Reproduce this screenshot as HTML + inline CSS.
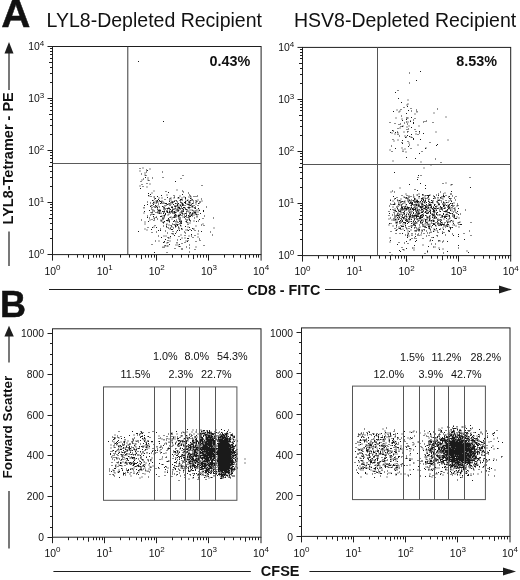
<!DOCTYPE html>
<html><head><meta charset="utf-8"><style>
html,body{margin:0;padding:0;background:#fff;width:520px;height:580px;overflow:hidden}
svg{display:block;will-change:transform;font-family:"Liberation Sans",sans-serif}
</style></head><body>
<svg width="520" height="580" viewBox="0 0 520 580" shape-rendering="auto">
<rect width="520" height="580" fill="#fff"/>
<text transform="translate(1.3,26.8) scale(1.04,1)" font-size="38.8" font-weight="bold" fill="#111" stroke="#111" stroke-width="0.45">A</text>
<text x="46.6" y="27.1" font-size="19.5" font-weight="normal" text-anchor="start" fill="#111" >LYL8-Depleted Recipient</text>
<text x="294" y="27.2" font-size="19.5" font-weight="normal" text-anchor="start" fill="#111" >HSV8-Depleted Recipient</text>
<path transform="scale(0.5)" fill="#1a1a1a" fill-opacity="1.0" d="M276 122h2v2h-2zM326 242h2v2h-2zM285 335h2v2h-2zM279 336h2v2h-2zM299 337h2v2h-2zM292 339h2v1h-2zM292 340h4v1h-4zM294 341h2v1h-2zM279 341h2v2h-2zM324 343h2v2h-2zM292 343h2v2h-2zM289 345h2v2h-2zM282 347h2v2h-2zM289 349h2v1h-2zM289 350h4v1h-4zM291 351h2v1h-2zM365 350h2v2h-2zM290 354h2v2h-2zM325 354h2v2h-2zM304 355h2v2h-2zM295 355h2v2h-2zM361 356h2v2h-2zM286 357h2v2h-2zM295 359h2v1h-2zM295 360h4v1h-4zM283 359h2v2h-2zM297 361h2v1h-2zM350 362h2v2h-2zM281 362h2v2h-2zM293 366h2v2h-2zM299 367h2v2h-2zM283 368h2v2h-2zM403 370h2v2h-2zM279 371h2v2h-2zM285 372h2v2h-2zM293 373h2v2h-2zM280 376h2v2h-2zM353 379h2v2h-2zM364 381h2v2h-2zM307 381h2v2h-2zM331 382h2v2h-2zM366 383h2v2h-2zM336 384h2v2h-2zM303 385h2v2h-2zM376 385h2v2h-2zM296 386h2v2h-2zM364 388h2v2h-2zM300 388h2v2h-2zM296 390h2v1h-2zM378 389h2v2h-2zM333 389h2v2h-2zM347 390h2v2h-2zM296 391h3v1h-3zM322 390h2v2h-2zM394 391h2v2h-2zM359 391h2v2h-2zM297 392h2v1h-2zM380 391h2v2h-2zM301 392h2v2h-2zM387 392h2v2h-2zM314 392h2v2h-2zM391 392h2v2h-2zM356 394h2v1h-2zM307 393h3v2h-3zM367 393h2v2h-2zM348 393h2v2h-2zM381 393h2v2h-2zM377 393h2v2h-2zM334 394h2v2h-2zM341 395h2v1h-2zM323 395h2v2h-2zM339 396h4v1h-4zM317 395h2v2h-2zM363 395h2v2h-2zM347 395h2v2h-2zM310 396h2v1h-2zM355 395h4v2h-4zM308 397h4v1h-4zM380 396h3v2h-3zM339 397h2v1h-2zM360 398h4v1h-4zM383 398h2v1h-2zM308 398h2v1h-2zM402 397h2v2h-2zM370 394h2v5h-2zM383 399h3v1h-3zM360 399h6v1h-6zM329 398h2v2h-2zM375 399h2v1h-2zM316 398h2v2h-2zM364 400h2v1h-2zM380 400h3v1h-3zM338 399h2v2h-2zM374 400h3v1h-3zM351 400h2v1h-2zM384 400h2v1h-2zM314 400h2v1h-2zM359 400h4v1h-4zM341 399h2v2h-2zM395 399h2v2h-2zM323 401h2v1h-2zM311 401h5v1h-5zM379 401h4v1h-4zM359 401h2v1h-2zM351 401h3v1h-3zM371 401h2v1h-2zM304 400h3v2h-3zM318 400h2v2h-2zM374 401h2v1h-2zM391 400h2v2h-2zM391 402h4v1h-4zM311 402h4v1h-4zM377 402h4v1h-4zM319 402h6v1h-6zM370 402h3v1h-3zM345 402h2v1h-2zM352 402h2v1h-2zM386 401h2v2h-2zM403 401h2v2h-2zM319 403h4v1h-4zM338 402h2v2h-2zM393 403h2v1h-2zM342 403h5v1h-5zM307 403h2v1h-2zM348 401h2v3h-2zM370 403h2v1h-2zM360 403h2v1h-2zM377 403h2v1h-2zM398 403h4v2h-4zM341 404h6v1h-6zM360 404h3v1h-3zM325 403h2v2h-2zM294 403h2v2h-2zM354 403h2v2h-2zM306 404h3v1h-3zM313 403h4v2h-4zM368 404h4v2h-4zM377 404h4v2h-4zM361 405h4v1h-4zM322 404h2v2h-2zM341 405h2v1h-2zM344 405h3v1h-3zM391 404h2v2h-2zM386 405h2v1h-2zM306 405h2v1h-2zM384 406h4v1h-4zM300 405h2v2h-2zM363 406h3v1h-3zM312 405h2v2h-2zM309 405h2v2h-2zM337 406h2v1h-2zM344 406h2v1h-2zM323 406h2v2h-2zM330 406h4v2h-4zM356 406h2v2h-2zM373 407h2v1h-2zM396 406h3v2h-3zM305 406h2v2h-2zM337 407h6v1h-6zM350 406h2v2h-2zM377 407h3v1h-3zM384 407h2v1h-2zM320 406h2v2h-2zM353 406h2v2h-2zM370 406h2v2h-2zM327 405h2v3h-2zM363 407h4v2h-4zM334 408h3v1h-3zM338 408h5v1h-5zM373 408h7v1h-7zM391 407h2v2h-2zM381 407h2v2h-2zM316 407h2v2h-2zM382 409h2v1h-2zM375 409h4v1h-4zM346 408h2v2h-2zM294 408h2v2h-2zM306 408h2v2h-2zM332 409h5v1h-5zM364 409h4v2h-4zM310 410h2v1h-2zM357 409h2v2h-2zM303 410h2v1h-2zM379 410h5v1h-5zM332 410h2v1h-2zM360 409h2v2h-2zM377 411h5v1h-5zM288 410h2v2h-2zM301 411h4v1h-4zM360 411h3v1h-3zM364 411h3v1h-3zM310 411h3v1h-3zM351 410h2v2h-2zM384 411h2v1h-2zM395 410h2v2h-2zM369 410h2v2h-2zM348 411h2v1h-2zM354 408h2v4h-2zM387 410h2v2h-2zM339 410h2v2h-2zM361 412h2v1h-2zM300 412h3v1h-3zM383 412h3v1h-3zM329 410h2v3h-2zM324 412h2v1h-2zM315 411h2v2h-2zM348 412h5v1h-5zM377 412h2v1h-2zM354 413h5v1h-5zM349 413h4v1h-4zM343 412h2v2h-2zM300 413h2v1h-2zM307 412h2v2h-2zM311 412h3v2h-3zM390 413h2v1h-2zM324 413h4v1h-4zM309 414h4v1h-4zM326 414h3v1h-3zM366 414h4v1h-4zM389 414h3v1h-3zM354 414h6v1h-6zM318 413h2v2h-2zM362 413h2v2h-2zM412 413h2v2h-2zM383 413h4v2h-4zM366 415h5v1h-5zM342 414h4v2h-4zM388 415h3v1h-3zM336 415h3v1h-3zM375 414h6v2h-6zM327 415h3v1h-3zM314 414h2v2h-2zM303 414h2v2h-2zM309 415h2v1h-2zM361 416h2v1h-2zM328 416h3v1h-3zM356 415h4v2h-4zM350 415h2v2h-2zM287 414h2v3h-2zM369 416h2v1h-2zM364 416h2v1h-2zM388 416h4v1h-4zM347 417h4v1h-4zM364 417h3v1h-3zM377 416h2v2h-2zM390 417h2v1h-2zM396 416h2v2h-2zM370 417h2v1h-2zM358 417h5v1h-5zM344 417h2v1h-2zM333 416h7v2h-7zM302 417h2v2h-2zM326 417h2v2h-2zM344 418h7v1h-7zM365 418h3v1h-3zM334 418h2v1h-2zM340 418h2v1h-2zM353 417h3v2h-3zM314 417h2v2h-2zM360 418h2v1h-2zM370 418h5v1h-5zM338 419h4v1h-4zM318 419h3v1h-3zM397 419h2v1h-2zM345 419h2v1h-2zM329 417h2v3h-2zM383 419h2v1h-2zM315 419h2v1h-2zM371 419h4v1h-4zM366 419h2v1h-2zM397 420h3v1h-3zM315 420h7v1h-7zM365 420h3v1h-3zM338 420h2v1h-2zM393 419h2v2h-2zM304 419h3v2h-3zM356 419h3v2h-3zM379 419h2v2h-2zM353 419h2v2h-2zM383 420h4v1h-4zM344 420h2v1h-2zM342 421h4v1h-4zM385 421h2v1h-2zM316 421h6v1h-6zM298 420h2v2h-2zM365 421h2v1h-2zM398 421h2v1h-2zM328 421h2v1h-2zM341 422h4v1h-4zM332 421h4v2h-4zM354 421h4v2h-4zM307 421h3v2h-3zM319 422h3v1h-3zM365 422h3v1h-3zM373 421h4v2h-4zM324 422h2v1h-2zM327 422h3v1h-3zM351 421h2v2h-2zM362 421h2v2h-2zM348 422h2v1h-2zM316 422h2v1h-2zM389 421h4v2h-4zM364 423h4v1h-4zM406 420h2v4h-2zM324 423h6v1h-6zM288 422h2v2h-2zM386 423h3v1h-3zM338 422h2v2h-2zM341 423h9v1h-9zM361 423h2v2h-2zM364 424h2v1h-2zM304 423h2v2h-2zM333 423h3v2h-3zM386 424h6v1h-6zM301 424h2v1h-2zM372 423h2v2h-2zM318 423h2v2h-2zM337 424h3v1h-3zM395 423h2v2h-2zM314 423h2v2h-2zM326 424h4v1h-4zM377 423h2v2h-2zM342 424h2v1h-2zM345 424h8v1h-8zM380 424h2v1h-2zM315 425h4v1h-4zM337 425h5v1h-5zM379 425h3v1h-3zM334 425h2v1h-2zM362 425h2v1h-2zM388 425h5v1h-5zM301 425h4v1h-4zM311 424h2v2h-2zM348 425h5v1h-5zM359 425h2v2h-2zM370 426h3v1h-3zM340 426h2v1h-2zM303 426h2v1h-2zM287 425h2v2h-2zM347 426h2v1h-2zM391 426h2v1h-2zM379 426h2v1h-2zM315 426h5v1h-5zM344 425h2v2h-2zM362 426h4v1h-4zM367 427h7v1h-7zM347 427h4v1h-4zM326 426h2v2h-2zM318 427h2v1h-2zM400 426h2v2h-2zM384 425h2v3h-2zM390 427h2v1h-2zM381 427h2v1h-2zM321 425h2v3h-2zM387 426h2v2h-2zM390 428h4v1h-4zM367 428h3v1h-3zM372 428h2v1h-2zM378 427h2v2h-2zM330 426h2v3h-2zM349 428h3v1h-3zM364 427h2v2h-2zM337 427h2v2h-2zM360 428h2v1h-2zM381 428h5v1h-5zM350 429h3v1h-3zM329 429h3v1h-3zM383 429h2v1h-2zM395 428h2v2h-2zM303 428h2v2h-2zM306 428h3v2h-3zM357 429h5v1h-5zM392 429h2v1h-2zM335 429h2v2h-2zM327 430h4v1h-4zM300 429h2v2h-2zM351 430h2v1h-2zM348 430h2v1h-2zM387 429h2v2h-2zM382 430h2v1h-2zM323 431h2v1h-2zM356 430h5v2h-5zM348 431h7v1h-7zM382 431h4v1h-4zM376 430h2v2h-2zM372 430h2v2h-2zM327 431h3v1h-3zM368 431h2v1h-2zM363 430h2v2h-2zM379 430h2v2h-2zM356 432h4v1h-4zM368 432h6v1h-6zM384 432h2v1h-2zM349 432h2v1h-2zM353 432h2v1h-2zM408 431h2v2h-2zM320 432h5v1h-5zM294 431h2v2h-2zM378 432h4v1h-4zM328 432h2v1h-2zM356 433h2v1h-2zM320 433h4v1h-4zM376 433h6v1h-6zM347 433h6v1h-6zM312 433h2v1h-2zM341 433h2v1h-2zM370 433h2v1h-2zM306 432h2v2h-2zM376 434h3v1h-3zM339 434h4v1h-4zM393 431h2v4h-2zM311 434h3v1h-3zM345 434h8v1h-8zM365 433h2v2h-2zM373 434h2v2h-2zM345 435h2v1h-2zM339 435h2v1h-2zM324 435h2v1h-2zM368 434h2v2h-2zM348 435h2v1h-2zM294 434h2v2h-2zM327 433h2v3h-2zM311 435h2v1h-2zM377 435h2v1h-2zM426 435h2v2h-2zM388 435h2v2h-2zM307 435h2v2h-2zM298 435h2v2h-2zM324 436h5v1h-5zM360 435h2v2h-2zM405 436h2v2h-2zM336 436h2v2h-2zM343 437h2v2h-2zM377 437h3v2h-3zM308 437h2v2h-2zM314 437h2v2h-2zM357 434h2v5h-2zM337 438h2v1h-2zM370 437h2v2h-2zM335 439h4v1h-4zM378 439h2v1h-2zM303 438h2v2h-2zM325 437h2v3h-2zM398 438h2v2h-2zM358 439h4v2h-4zM332 440h7v1h-7zM378 440h3v1h-3zM352 439h2v2h-2zM282 439h2v2h-2zM299 439h2v2h-2zM321 439h2v2h-2zM372 439h4v2h-4zM307 440h2v2h-2zM332 441h5v1h-5zM348 440h2v2h-2zM379 441h3v1h-3zM335 442h2v1h-2zM321 441h4v2h-4zM358 442h3v1h-3zM362 441h2v2h-2zM396 441h2v2h-2zM380 442h2v1h-2zM387 441h2v2h-2zM328 442h2v1h-2zM371 442h3v2h-3zM358 443h6v1h-6zM296 442h2v2h-2zM346 442h2v2h-2zM327 443h3v1h-3zM353 442h2v2h-2zM392 442h2v2h-2zM349 442h2v2h-2zM325 444h4v1h-4zM373 444h2v1h-2zM360 444h4v1h-4zM338 441h2v4h-2zM289 443h2v2h-2zM361 445h2v1h-2zM355 444h2v2h-2zM325 445h3v1h-3zM373 445h4v1h-4zM326 446h2v1h-2zM359 446h5v1h-5zM351 445h2v2h-2zM379 445h2v2h-2zM375 446h2v1h-2zM362 447h2v1h-2zM353 448h4v1h-4zM359 447h2v2h-2zM333 447h2v2h-2zM405 447h2v2h-2zM347 448h2v1h-2zM289 447h2v2h-2zM344 447h2v2h-2zM375 448h2v2h-2zM347 449h10v1h-10zM349 450h4v1h-4zM341 450h2v1h-2zM402 449h2v2h-2zM337 449h2v2h-2zM332 449h2v2h-2zM360 450h2v1h-2zM360 451h3v1h-3zM341 451h3v1h-3zM350 451h2v1h-2zM309 450h2v2h-2zM407 450h2v2h-2zM354 450h2v2h-2zM361 452h2v1h-2zM342 452h2v1h-2zM326 451h2v2h-2zM391 451h2v2h-2zM350 452h3v2h-3zM370 452h2v2h-2zM332 452h2v2h-2zM356 453h2v2h-2zM343 453h2v2h-2zM350 454h2v1h-2zM307 453h2v2h-2zM375 453h2v2h-2zM295 454h2v2h-2zM333 454h2v2h-2zM312 454h2v2h-2zM378 454h2v2h-2zM304 454h2v2h-2zM427 455h2v2h-2zM340 455h2v2h-2zM362 456h2v1h-2zM346 455h2v2h-2zM384 456h2v1h-2zM336 455h2v2h-2zM384 457h5v1h-5zM362 457h3v1h-3zM386 458h3v1h-3zM357 455h2v4h-2zM320 457h2v2h-2zM289 457h2v2h-2zM339 457h2v2h-2zM302 458h2v2h-2zM342 458h4v2h-4zM374 459h2v1h-2zM379 458h2v2h-2zM363 458h2v2h-2zM293 459h2v2h-2zM374 460h4v1h-4zM371 459h2v2h-2zM354 460h2v2h-2zM376 461h2v1h-2zM320 460h2v2h-2zM389 460h2v2h-2zM358 460h2v2h-2zM316 460h2v2h-2zM382 460h2v2h-2zM396 461h2v2h-2zM330 461h2v2h-2zM402 462h2v2h-2zM345 462h2v2h-2zM276 462h2v2h-2zM312 463h2v2h-2zM420 463h2v2h-2zM368 463h2v2h-2zM352 463h2v2h-2zM303 464h2v2h-2zM334 465h2v2h-2zM370 465h2v2h-2zM343 466h2v1h-2zM343 467h5v1h-5zM350 466h2v2h-2zM345 468h3v1h-3zM395 467h2v2h-2zM382 468h2v2h-2zM361 469h2v2h-2zM424 469h2v2h-2zM369 470h2v2h-2zM348 470h2v2h-2zM389 470h2v2h-2zM316 471h2v2h-2zM331 471h2v2h-2zM327 471h2v2h-2zM382 471h2v2h-2zM377 471h2v2h-2zM340 472h2v2h-2zM357 472h2v2h-2zM335 474h2v1h-2zM395 473h2v2h-2zM335 475h3v1h-3zM322 474h2v2h-2zM385 474h2v2h-2zM369 475h2v2h-2zM339 475h2v2h-2zM363 475h2v2h-2zM336 476h2v1h-2zM374 476h4v2h-4zM398 477h2v2h-2zM360 478h2v2h-2zM330 478h2v2h-2zM354 479h2v2h-2zM399 480h2v2h-2zM375 480h2v2h-2zM335 480h2v2h-2zM317 481h2v2h-2zM310 481h2v2h-2zM339 481h2v2h-2zM371 481h2v2h-2zM391 482h2v2h-2zM328 482h2v2h-2zM374 482h2v2h-2zM335 484h2v1h-2zM369 484h2v2h-2zM333 485h4v1h-4zM326 484h3v2h-3zM353 484h2v3h-2zM333 486h2v1h-2zM363 486h2v2h-2zM303 488h2v2h-2zM358 488h2v2h-2zM338 488h2v2h-2zM355 489h2v2h-2zM329 490h2v1h-2zM351 489h2v2h-2zM378 489h2v2h-2zM407 490h2v2h-2zM329 491h4v1h-4zM331 492h2v1h-2zM334 491h3v2h-3zM357 492h4v2h-4zM391 493h2v2h-2zM372 493h2v2h-2zM328 493h2v2h-2zM325 493h2v3h-2zM378 495h2v2h-2zM349 496h2v2h-2zM362 497h4v2h-4zM389 498h2v2h-2zM378 503h2v2h-2zM308 504h2v2h-2zM333 504h2v2h-2z"/>
<path transform="scale(0.5)" fill="#1a1a1a" fill-opacity="1.0" d="M840 142h2v2h-2zM818 145h2v2h-2zM832 160h2v2h-2zM818 165h2v2h-2zM795 180h2v2h-2zM790 184h2v2h-2zM796 196h2v2h-2zM815 199h2v2h-2zM802 204h2v2h-2zM815 207h2v2h-2zM813 209h2v2h-2zM814 212h2v2h-2zM807 214h2v2h-2zM821 216h2v2h-2zM874 217h2v2h-2zM801 218h2v2h-2zM793 219h2v2h-2zM832 219h2v2h-2zM816 220h2v2h-2zM822 221h2v2h-2zM799 221h2v2h-2zM786 222h2v2h-2zM833 222h2v3h-2zM797 223h2v2h-2zM867 225h2v2h-2zM812 226h2v2h-2zM829 227h2v2h-2zM802 231h2v2h-2zM891 233h2v2h-2zM822 234h2v2h-2zM791 235h2v2h-2zM812 235h5v2h-5zM829 236h2v2h-2zM803 237h2v2h-2zM812 238h2v2h-2zM826 239h2v2h-2zM804 240h2v2h-2zM852 241h2v2h-2zM820 241h2v3h-2zM849 242h2v2h-2zM812 243h2v2h-2zM815 243h2v2h-2zM846 243h2v2h-2zM779 244h2v2h-2zM865 244h2v2h-2zM808 245h2v2h-2zM826 244h2v4h-2zM789 246h2v2h-2zM814 247h2v2h-2zM800 247h2v2h-2zM797 248h2v2h-2zM805 251h2v1h-2zM817 251h2v2h-2zM837 251h2v2h-2zM804 252h3v1h-3zM801 252h2v2h-2zM804 253h2v1h-2zM813 253h2v2h-2zM822 254h2v2h-2zM799 255h2v2h-2zM795 256h2v2h-2zM816 257h2v2h-2zM829 258h2v2h-2zM813 258h2v2h-2zM784 260h2v1h-2zM784 261h4v1h-4zM815 262h2v1h-2zM786 262h2v1h-2zM814 263h3v1h-3zM831 262h2v2h-2zM838 262h2v2h-2zM814 264h2v1h-2zM871 263h2v2h-2zM807 263h2v2h-2zM794 263h2v2h-2zM790 264h2v2h-2zM780 264h2v2h-2zM795 265h2v2h-2zM783 265h2v2h-2zM838 265h2v2h-2zM846 266h2v2h-2zM831 267h2v2h-2zM789 267h2v2h-2zM795 268h2v2h-2zM822 268h2v2h-2zM835 268h2v2h-2zM814 270h2v2h-2zM798 271h2v2h-2zM809 271h2v2h-2zM812 273h2v1h-2zM818 272h2v2h-2zM821 273h2v1h-2zM810 274h4v1h-4zM821 274h4v1h-4zM823 275h2v1h-2zM810 275h2v1h-2zM785 278h2v2h-2zM826 276h2v4h-2zM840 278h2v2h-2zM795 279h2v2h-2zM895 279h2v2h-2zM804 280h2v2h-2zM787 281h2v2h-2zM815 282h2v2h-2zM859 284h2v2h-2zM803 284h2v2h-2zM817 285h2v2h-2zM804 286h2v2h-2zM874 288h2v2h-2zM818 289h2v2h-2zM835 289h2v2h-2zM872 290h2v2h-2zM782 291h2v2h-2zM816 292h2v2h-2zM851 295h2v1h-2zM850 296h3v1h-3zM803 295h2v2h-2zM790 296h2v2h-2zM850 297h2v1h-2zM821 296h2v2h-2zM809 297h2v2h-2zM779 299h2v2h-2zM805 299h2v2h-2zM783 302h2v2h-2zM805 302h2v2h-2zM843 302h2v2h-2zM811 303h2v2h-2zM838 306h2v2h-2zM812 314h2v2h-2zM830 316h2v2h-2zM870 317h2v2h-2zM785 321h2v2h-2zM841 323h2v2h-2zM881 324h2v2h-2zM852 328h2v2h-2zM804 328h2v2h-2zM861 329h2v2h-2zM847 335h2v2h-2zM788 344h2v2h-2zM836 350h2v2h-2zM841 350h2v2h-2zM939 354h2v2h-2zM835 354h2v2h-2zM834 358h2v2h-2zM891 365h2v2h-2zM885 366h2v2h-2zM840 366h2v2h-2zM903 368h2v1h-2zM901 369h4v1h-4zM818 368h2v2h-2zM901 370h2v1h-2zM850 370h2v2h-2zM940 374h2v2h-2zM799 375h2v2h-2zM850 376h2v2h-2zM829 378h2v2h-2zM834 380h2v2h-2zM784 381h2v2h-2zM902 382h2v2h-2zM880 383h2v2h-2zM788 383h2v2h-2zM781 383h2v2h-2zM889 385h2v2h-2zM837 387h2v2h-2zM876 387h2v2h-2zM844 388h2v1h-2zM886 387h2v2h-2zM811 387h2v2h-2zM901 386h2v4h-2zM859 389h2v1h-2zM833 389h3v2h-3zM826 389h2v2h-2zM872 389h2v2h-2zM851 390h2v1h-2zM844 389h4v2h-4zM854 390h7v1h-7zM849 391h4v1h-4zM854 391h6v1h-6zM876 390h2v2h-2zM866 391h2v1h-2zM813 390h2v2h-2zM803 390h2v2h-2zM891 390h2v2h-2zM886 390h2v2h-2zM898 392h2v1h-2zM904 391h2v2h-2zM866 392h4v1h-4zM849 392h2v1h-2zM896 393h4v1h-4zM886 392h4v2h-4zM911 392h2v2h-2zM821 392h2v2h-2zM807 393h2v1h-2zM837 392h3v2h-3zM786 392h2v2h-2zM856 392h2v2h-2zM868 393h2v1h-2zM883 392h2v2h-2zM807 394h4v1h-4zM826 393h3v2h-3zM855 394h3v1h-3zM812 394h2v1h-2zM896 394h2v1h-2zM880 394h2v1h-2zM887 394h2v1h-2zM812 395h3v1h-3zM809 395h2v1h-2zM817 391h2v5h-2zM793 394h2v2h-2zM855 395h2v1h-2zM875 394h2v2h-2zM844 395h4v1h-4zM790 396h2v1h-2zM837 395h2v2h-2zM849 395h2v2h-2zM898 396h2v1h-2zM828 396h2v1h-2zM842 396h6v1h-6zM901 396h2v1h-2zM811 396h6v1h-6zM908 395h2v2h-2zM880 395h5v2h-5zM842 397h4v1h-4zM869 394h2v4h-2zM811 397h2v1h-2zM866 396h2v2h-2zM898 397h5v1h-5zM853 396h2v2h-2zM788 397h4v1h-4zM828 397h4v2h-4zM885 397h2v2h-2zM850 397h2v2h-2zM788 398h2v1h-2zM801 397h2v2h-2zM900 398h2v1h-2zM857 397h2v2h-2zM875 397h2v2h-2zM844 398h4v1h-4zM856 399h3v1h-3zM833 399h2v1h-2zM828 399h2v1h-2zM818 399h2v1h-2zM794 399h2v1h-2zM878 399h2v1h-2zM794 400h3v1h-3zM833 400h3v1h-3zM822 399h2v2h-2zM850 400h2v1h-2zM910 399h2v2h-2zM856 400h2v1h-2zM875 400h5v1h-5zM798 400h3v2h-3zM825 400h4v2h-4zM875 401h4v1h-4zM818 400h3v2h-3zM881 400h2v2h-2zM831 401h5v1h-5zM809 401h2v1h-2zM842 399h2v3h-2zM862 400h2v2h-2zM780 399h2v3h-2zM846 399h2v3h-2zM901 400h2v2h-2zM891 400h2v2h-2zM807 402h4v1h-4zM873 402h2v1h-2zM840 402h2v1h-2zM897 401h2v2h-2zM827 402h2v1h-2zM795 401h2v2h-2zM803 402h3v1h-3zM865 400h2v3h-2zM785 401h2v2h-2zM815 397h2v6h-2zM849 401h3v2h-3zM831 402h7v1h-7zM799 402h2v1h-2zM873 403h3v1h-3zM839 403h3v1h-3zM864 403h2v1h-2zM819 403h5v1h-5zM856 402h3v2h-3zM902 402h2v2h-2zM844 402h2v2h-2zM801 403h5v1h-5zM827 403h11v1h-11zM847 403h4v1h-4zM847 404h3v1h-3zM861 404h5v1h-5zM828 404h8v1h-8zM801 404h2v1h-2zM807 403h2v2h-2zM839 404h2v1h-2zM819 404h7v1h-7zM873 404h4v1h-4zM886 403h2v2h-2zM816 403h2v2h-2zM882 403h2v2h-2zM861 405h6v1h-6zM799 405h4v1h-4zM848 405h3v1h-3zM852 404h2v2h-2zM841 405h2v1h-2zM892 404h2v2h-2zM844 405h2v1h-2zM820 405h3v1h-3zM829 405h2v1h-2zM824 405h2v1h-2zM895 404h2v2h-2zM834 405h5v1h-5zM858 404h2v2h-2zM875 405h2v1h-2zM886 405h5v1h-5zM835 406h4v1h-4zM799 406h2v1h-2zM875 406h4v1h-4zM888 406h3v1h-3zM865 406h2v1h-2zM809 405h2v2h-2zM788 405h2v2h-2zM796 405h2v2h-2zM907 405h2v2h-2zM841 406h5v1h-5zM818 406h8v1h-8zM849 406h2v1h-2zM822 407h4v1h-4zM831 407h2v1h-2zM859 407h2v1h-2zM818 407h3v1h-3zM843 407h2v1h-2zM900 406h3v2h-3zM904 406h2v2h-2zM877 407h2v1h-2zM856 407h2v1h-2zM805 406h2v2h-2zM789 407h2v1h-2zM843 408h4v1h-4zM856 408h7v1h-7zM885 406h2v3h-2zM796 408h3v1h-3zM823 408h3v1h-3zM914 407h2v2h-2zM812 408h2v1h-2zM780 407h2v2h-2zM835 408h2v1h-2zM803 408h2v1h-2zM829 408h5v1h-5zM786 408h5v1h-5zM885 409h3v1h-3zM801 409h4v1h-4zM796 409h4v1h-4zM786 409h4v1h-4zM852 408h2v2h-2zM822 409h9v1h-9zM868 408h3v2h-3zM898 408h2v2h-2zM904 409h2v1h-2zM783 408h2v2h-2zM889 408h2v2h-2zM895 409h2v1h-2zM811 409h3v1h-3zM876 408h4v2h-4zM832 409h2v1h-2zM858 409h5v1h-5zM842 409h5v1h-5zM895 410h4v1h-4zM826 410h4v1h-4zM858 410h4v1h-4zM842 410h4v1h-4zM798 410h2v1h-2zM801 410h2v1h-2zM915 410h2v1h-2zM855 410h2v1h-2zM877 410h2v1h-2zM902 410h4v1h-4zM835 409h5v2h-5zM847 410h4v1h-4zM811 410h2v1h-2zM886 410h5v1h-5zM847 411h7v1h-7zM835 411h4v1h-4zM831 410h3v2h-3zM902 411h3v1h-3zM821 410h3v2h-3zM873 411h2v1h-2zM886 411h4v1h-4zM913 411h4v1h-4zM855 411h9v1h-9zM802 411h2v1h-2zM892 410h2v2h-2zM896 411h3v1h-3zM868 410h2v2h-2zM907 410h2v2h-2zM843 412h4v1h-4zM870 412h5v1h-5zM886 412h2v1h-2zM840 412h2v1h-2zM822 412h2v1h-2zM836 412h3v1h-3zM856 412h2v1h-2zM896 412h2v1h-2zM861 412h3v1h-3zM913 412h2v1h-2zM778 411h2v2h-2zM850 412h4v1h-4zM802 412h3v1h-3zM828 413h4v1h-4zM886 413h4v1h-4zM850 413h3v1h-3zM837 413h10v1h-10zM854 413h2v1h-2zM813 413h3v1h-3zM795 411h2v3h-2zM807 412h2v2h-2zM810 412h2v2h-2zM862 413h2v1h-2zM870 413h3v1h-3zM803 413h2v1h-2zM905 412h2v2h-2zM880 412h2v2h-2zM894 413h7v2h-7zM850 414h8v1h-8zM839 414h6v1h-6zM809 414h2v1h-2zM813 414h6v1h-6zM785 413h2v2h-2zM827 414h5v1h-5zM888 414h2v1h-2zM792 413h2v2h-2zM861 414h3v1h-3zM880 414h5v1h-5zM849 415h5v1h-5zM897 415h3v1h-3zM890 415h2v1h-2zM869 415h2v1h-2zM827 415h2v1h-2zM909 415h2v1h-2zM808 415h3v1h-3zM822 414h2v2h-2zM866 413h2v3h-2zM856 415h2v1h-2zM877 415h2v1h-2zM814 415h7v1h-7zM859 415h5v1h-5zM802 414h4v2h-4zM872 415h2v1h-2zM840 415h7v1h-7zM903 414h2v2h-2zM887 416h5v1h-5zM845 416h7v1h-7zM896 416h4v1h-4zM907 416h4v1h-4zM808 416h10v1h-10zM855 416h3v1h-3zM859 416h2v1h-2zM824 416h3v1h-3zM801 416h2v1h-2zM804 416h2v1h-2zM841 416h2v1h-2zM819 416h4v1h-4zM868 416h11v1h-11zM868 417h4v1h-4zM863 416h4v2h-4zM853 417h4v1h-4zM907 417h2v1h-2zM801 417h13v1h-13zM830 416h2v2h-2zM821 417h2v1h-2zM874 417h3v1h-3zM896 417h3v1h-3zM815 417h3v1h-3zM916 416h2v2h-2zM794 415h2v3h-2zM887 417h3v1h-3zM824 417h5v1h-5zM842 417h2v1h-2zM847 417h4v1h-4zM842 418h4v1h-4zM820 418h2v1h-2zM897 418h2v1h-2zM833 413h2v6h-2zM806 418h9v1h-9zM849 418h6v1h-6zM900 417h2v2h-2zM789 417h2v2h-2zM803 418h2v1h-2zM881 415h4v4h-4zM837 418h2v1h-2zM903 417h2v2h-2zM799 419h8v1h-8zM865 418h3v2h-3zM869 419h2v1h-2zM816 419h7v1h-7zM812 419h3v1h-3zM851 419h3v1h-3zM859 418h2v2h-2zM881 419h2v1h-2zM795 418h2v2h-2zM785 418h2v2h-2zM837 419h3v1h-3zM780 418h2v2h-2zM894 418h2v2h-2zM824 418h8v2h-8zM842 419h5v1h-5zM790 420h2v1h-2zM852 420h3v1h-3zM799 420h4v1h-4zM859 420h3v1h-3zM816 420h4v1h-4zM893 420h3v1h-3zM821 420h2v1h-2zM930 419h2v2h-2zM838 420h2v1h-2zM834 419h2v2h-2zM845 420h2v1h-2zM878 419h2v2h-2zM804 420h3v1h-3zM830 420h2v1h-2zM884 419h2v2h-2zM866 420h5v1h-5zM787 420h2v1h-2zM853 421h4v1h-4zM787 421h5v1h-5zM826 420h2v2h-2zM890 421h5v1h-5zM860 421h2v1h-2zM801 421h2v1h-2zM796 420h2v2h-2zM872 419h2v3h-2zM900 420h2v2h-2zM846 421h2v1h-2zM841 420h2v2h-2zM866 421h4v1h-4zM811 420h2v2h-2zM796 422h7v1h-7zM845 422h3v1h-3zM887 422h7v1h-7zM909 418h2v5h-2zM855 422h2v1h-2zM858 422h3v1h-3zM789 422h5v1h-5zM865 422h5v1h-5zM831 421h7v2h-7zM903 421h2v2h-2zM858 423h4v1h-4zM831 423h2v1h-2zM865 423h6v1h-6zM850 422h3v2h-3zM914 422h2v2h-2zM879 422h3v2h-3zM817 422h2v2h-2zM777 422h2v2h-2zM823 422h2v2h-2zM808 421h2v3h-2zM792 423h2v1h-2zM887 423h9v1h-9zM820 423h2v1h-2zM798 423h4v1h-4zM842 423h5v1h-5zM818 424h4v1h-4zM894 424h6v1h-6zM856 424h2v1h-2zM906 423h2v2h-2zM874 424h2v1h-2zM891 424h2v1h-2zM837 423h2v2h-2zM832 424h2v1h-2zM867 424h4v1h-4zM805 424h4v2h-4zM842 424h4v2h-4zM911 424h2v2h-2zM849 424h4v2h-4zM832 425h6v1h-6zM839 425h2v1h-2zM818 425h2v1h-2zM867 425h2v1h-2zM787 424h2v2h-2zM854 425h4v1h-4zM895 425h5v1h-5zM872 425h4v1h-4zM834 426h7v1h-7zM852 426h6v1h-6zM795 425h2v2h-2zM822 425h2v2h-2zM801 424h2v3h-2zM898 426h5v1h-5zM813 425h2v2h-2zM831 426h2v2h-2zM826 424h2v4h-2zM860 424h2v4h-2zM893 427h2v1h-2zM904 426h2v2h-2zM899 427h4v1h-4zM846 427h2v1h-2zM797 427h2v1h-2zM852 427h4v1h-4zM835 427h5v1h-5zM913 426h2v2h-2zM778 426h2v2h-2zM835 428h4v1h-4zM863 427h4v2h-4zM891 428h4v1h-4zM797 428h4v1h-4zM879 428h2v1h-2zM807 426h3v3h-3zM843 428h5v1h-5zM788 427h2v2h-2zM872 426h2v3h-2zM794 427h2v2h-2zM816 427h3v2h-3zM868 427h2v2h-2zM920 427h2v2h-2zM799 429h2v1h-2zM843 429h3v1h-3zM863 429h6v1h-6zM891 429h6v1h-6zM793 429h2v1h-2zM807 429h2v1h-2zM916 428h2v2h-2zM824 429h2v1h-2zM803 428h2v2h-2zM886 426h2v4h-2zM829 429h8v1h-8zM816 429h2v1h-2zM872 429h4v1h-4zM823 430h4v1h-4zM828 430h9v1h-9zM840 430h8v1h-8zM793 430h5v1h-5zM898 430h2v1h-2zM864 430h5v1h-5zM812 428h2v3h-2zM895 430h2v1h-2zM784 429h2v2h-2zM874 430h2v1h-2zM820 427h2v4h-2zM877 429h4v2h-4zM889 431h4v1h-4zM817 431h4v1h-4zM809 431h3v1h-3zM850 430h3v2h-3zM865 431h6v1h-6zM859 430h2v2h-2zM883 430h3v2h-3zM792 431h9v1h-9zM777 430h2v2h-2zM835 431h2v1h-2zM846 431h2v1h-2zM840 431h4v1h-4zM804 430h2v2h-2zM823 431h11v1h-11zM796 432h5v1h-5zM897 431h3v2h-3zM826 432h12v1h-12zM869 432h2v1h-2zM809 432h5v1h-5zM858 432h3v1h-3zM823 432h2v1h-2zM845 432h2v1h-2zM817 432h5v1h-5zM792 432h2v1h-2zM840 432h3v1h-3zM832 433h11v1h-11zM868 433h4v1h-4zM888 432h7v2h-7zM844 433h3v1h-3zM857 433h3v1h-3zM898 433h2v1h-2zM905 428h2v6h-2zM824 433h2v1h-2zM808 433h2v1h-2zM803 432h2v2h-2zM853 432h2v2h-2zM908 429h2v5h-2zM883 432h4v2h-4zM864 433h3v2h-3zM803 434h7v1h-7zM818 433h4v2h-4zM812 433h3v2h-3zM823 434h3v1h-3zM868 434h6v1h-6zM907 434h3v1h-3zM794 434h2v1h-2zM884 434h2v1h-2zM838 434h8v1h-8zM857 434h2v1h-2zM913 433h2v2h-2zM888 434h4v1h-4zM839 435h7v1h-7zM794 435h3v1h-3zM888 435h3v1h-3zM864 435h2v1h-2zM881 434h2v2h-2zM827 433h2v3h-2zM798 434h2v2h-2zM823 435h2v1h-2zM853 434h3v2h-3zM818 435h2v1h-2zM789 430h2v6h-2zM868 435h2v1h-2zM872 435h2v1h-2zM907 435h2v1h-2zM832 434h2v2h-2zM804 435h5v1h-5zM827 436h4v1h-4zM857 435h4v2h-4zM898 435h3v2h-3zM817 436h3v1h-3zM867 436h3v1h-3zM795 436h2v1h-2zM837 436h6v1h-6zM801 436h2v1h-2zM780 435h2v2h-2zM917 435h2v2h-2zM806 436h3v2h-3zM801 437h3v1h-3zM821 437h2v1h-2zM859 437h2v1h-2zM892 436h2v2h-2zM871 436h2v2h-2zM853 437h3v1h-3zM909 436h5v2h-5zM867 437h2v1h-2zM829 437h2v1h-2zM791 437h2v1h-2zM797 437h2v1h-2zM816 437h3v1h-3zM811 436h2v2h-2zM837 437h5v1h-5zM790 438h3v1h-3zM821 438h3v1h-3zM816 438h4v1h-4zM847 437h2v2h-2zM879 438h2v1h-2zM796 438h3v1h-3zM897 437h2v2h-2zM802 438h2v1h-2zM850 438h6v1h-6zM833 436h2v3h-2zM839 438h2v1h-2zM777 437h2v2h-2zM807 438h2v1h-2zM811 438h3v1h-3zM858 438h2v1h-2zM875 437h2v2h-2zM887 437h2v2h-2zM811 439h5v1h-5zM833 439h4v1h-4zM843 438h2v2h-2zM865 439h2v1h-2zM822 439h2v1h-2zM828 438h2v2h-2zM874 439h3v1h-3zM796 439h2v1h-2zM818 439h2v1h-2zM803 439h2v1h-2zM879 439h5v1h-5zM790 439h2v2h-2zM835 440h4v1h-4zM810 440h3v1h-3zM881 440h3v1h-3zM850 439h3v2h-3zM902 440h2v1h-2zM814 440h2v1h-2zM803 440h3v1h-3zM793 439h2v2h-2zM842 440h3v1h-3zM783 439h2v2h-2zM895 439h2v2h-2zM874 440h5v1h-5zM900 441h4v1h-4zM881 441h2v1h-2zM800 440h2v2h-2zM827 440h2v2h-2zM810 441h5v1h-5zM841 441h3v1h-3zM877 441h2v1h-2zM858 439h3v3h-3zM787 436h2v6h-2zM837 441h2v1h-2zM812 442h4v1h-4zM899 442h3v1h-3zM845 441h3v2h-3zM859 442h2v1h-2zM892 441h2v2h-2zM855 441h2v2h-2zM850 441h2v2h-2zM862 440h2v3h-2zM804 441h2v2h-2zM865 440h4v3h-4zM840 442h3v1h-3zM798 442h3v2h-3zM821 442h3v2h-3zM866 443h3v1h-3zM850 443h3v1h-3zM826 442h2v2h-2zM813 443h3v1h-3zM919 443h2v1h-2zM874 442h2v2h-2zM817 441h2v3h-2zM791 443h2v1h-2zM794 443h2v1h-2zM835 442h2v2h-2zM830 442h2v2h-2zM802 443h4v1h-4zM880 442h2v2h-2zM851 444h4v1h-4zM917 444h4v1h-4zM881 444h3v1h-3zM831 444h2v1h-2zM802 444h2v1h-2zM840 443h2v2h-2zM844 444h2v1h-2zM899 443h2v2h-2zM905 441h2v4h-2zM816 444h3v1h-3zM791 444h5v1h-5zM894 443h4v2h-4zM840 445h6v1h-6zM791 445h4v1h-4zM825 445h5v1h-5zM806 444h6v2h-6zM871 444h2v2h-2zM881 445h5v1h-5zM831 445h4v1h-4zM889 444h2v2h-2zM851 445h5v1h-5zM875 444h2v2h-2zM915 445h4v1h-4zM941 444h2v2h-2zM816 445h2v1h-2zM875 446h4v1h-4zM825 446h10v1h-10zM854 446h2v1h-2zM881 446h2v1h-2zM840 446h4v1h-4zM915 446h2v1h-2zM810 446h2v1h-2zM851 446h2v1h-2zM862 445h2v2h-2zM884 446h2v1h-2zM791 446h2v1h-2zM894 445h2v2h-2zM865 446h4v1h-4zM798 445h4v2h-4zM809 447h3v1h-3zM865 447h6v1h-6zM781 446h2v2h-2zM814 446h2v2h-2zM822 446h2v2h-2zM844 447h2v1h-2zM877 447h2v1h-2zM888 447h2v1h-2zM906 446h2v2h-2zM880 447h2v1h-2zM778 446h2v2h-2zM844 448h3v1h-3zM826 448h2v1h-2zM880 448h10v1h-10zM859 447h2v2h-2zM809 448h2v1h-2zM793 447h2v2h-2zM855 447h2v2h-2zM829 447h2v2h-2zM805 447h2v2h-2zM866 448h5v1h-5zM874 447h2v2h-2zM849 447h2v2h-2zM876 449h13v1h-13zM920 448h4v2h-4zM845 449h2v1h-2zM893 448h5v2h-5zM917 448h2v2h-2zM866 449h4v1h-4zM826 449h4v1h-4zM856 449h3v2h-3zM838 449h2v2h-2zM870 450h2v1h-2zM823 450h2v1h-2zM777 449h2v2h-2zM827 450h5v1h-5zM853 449h2v2h-2zM876 450h8v1h-8zM905 449h2v2h-2zM891 450h2v1h-2zM908 449h2v2h-2zM849 451h2v1h-2zM864 450h2v2h-2zM859 451h2v1h-2zM827 451h2v1h-2zM801 450h2v2h-2zM877 451h2v1h-2zM810 450h2v2h-2zM805 451h2v1h-2zM870 451h3v1h-3zM792 450h2v2h-2zM844 451h4v1h-4zM891 451h5v1h-5zM882 451h2v1h-2zM844 452h7v1h-7zM911 451h2v2h-2zM897 451h2v2h-2zM871 452h2v1h-2zM785 451h2v2h-2zM830 451h2v2h-2zM856 452h5v1h-5zM892 452h4v1h-4zM887 450h2v3h-2zM821 451h4v2h-4zM802 452h6v2h-6zM847 453h2v1h-2zM817 452h2v2h-2zM850 453h2v1h-2zM894 453h2v1h-2zM856 453h4v1h-4zM849 454h5v1h-5zM890 453h2v2h-2zM792 453h2v2h-2zM839 453h2v2h-2zM829 454h2v1h-2zM810 453h2v2h-2zM797 453h2v2h-2zM917 453h2v2h-2zM857 454h2v1h-2zM862 453h2v2h-2zM852 455h2v1h-2zM828 455h3v1h-3zM800 455h2v1h-2zM822 454h2v2h-2zM904 454h2v2h-2zM899 454h4v2h-4zM849 455h2v1h-2zM885 455h2v2h-2zM857 455h3v2h-3zM828 456h2v1h-2zM812 455h2v2h-2zM837 455h2v2h-2zM832 455h2v2h-2zM857 457h4v1h-4zM797 456h5v2h-5zM817 456h2v2h-2zM872 456h2v2h-2zM867 457h2v1h-2zM789 456h2v2h-2zM880 457h2v1h-2zM847 458h2v1h-2zM867 458h3v1h-3zM859 458h2v1h-2zM838 458h2v1h-2zM813 457h2v2h-2zM805 457h2v2h-2zM835 457h2v2h-2zM900 456h2v3h-2zM878 458h4v1h-4zM847 459h3v1h-3zM793 458h2v2h-2zM801 458h2v2h-2zM878 459h2v1h-2zM868 459h2v1h-2zM886 458h2v2h-2zM836 459h4v2h-4zM848 460h2v1h-2zM821 459h2v2h-2zM843 459h2v2h-2zM833 459h2v2h-2zM860 459h2v2h-2zM871 459h2v2h-2zM829 460h2v1h-2zM896 460h3v2h-3zM867 461h2v1h-2zM791 460h3v2h-3zM808 460h2v2h-2zM896 462h4v1h-4zM843 461h3v2h-3zM852 461h2v2h-2zM866 462h3v1h-3zM829 461h5v2h-5zM938 461h2v2h-2zM874 461h2v2h-2zM815 461h2v2h-2zM837 461h2v2h-2zM898 463h2v1h-2zM866 463h2v1h-2zM818 462h2v2h-2zM781 462h2v2h-2zM884 463h2v2h-2zM861 463h2v3h-2zM875 464h2v2h-2zM887 464h2v2h-2zM858 465h2v2h-2zM815 465h2v2h-2zM842 465h2v2h-2zM854 465h2v2h-2zM847 466h2v2h-2zM791 466h2v2h-2zM927 466h2v2h-2zM884 466h2v2h-2zM804 466h2v2h-2zM799 466h2v2h-2zM904 467h2v2h-2zM823 466h2v3h-2zM830 467h2v2h-2zM836 467h2v2h-2zM816 467h2v2h-2zM916 468h2v2h-2zM873 470h2v1h-2zM890 469h2v2h-2zM834 469h2v2h-2zM810 469h2v2h-2zM841 469h2v2h-2zM873 471h3v1h-3zM823 470h2v2h-2zM857 470h2v2h-2zM906 470h2v2h-2zM837 470h2v2h-2zM941 470h2v2h-2zM814 469h2v4h-2zM852 471h2v2h-2zM874 472h2v1h-2zM817 471h2v2h-2zM916 472h2v2h-2zM830 472h2v2h-2zM814 474h2v2h-2zM866 474h2v2h-2zM863 474h2v2h-2zM779 475h2v2h-2zM828 475h2v2h-2zM823 476h2v2h-2zM845 476h2v2h-2zM831 476h2v2h-2zM820 478h2v1h-2zM819 479h3v1h-3zM928 478h2v2h-2zM860 479h2v2h-2zM877 480h2v1h-2zM819 480h2v1h-2zM832 480h2v2h-2zM876 481h5v1h-5zM864 480h2v2h-2zM780 480h2v2h-2zM879 482h2v1h-2zM886 481h2v2h-2zM859 481h2v2h-2zM876 482h2v1h-2zM812 482h2v2h-2zM894 482h2v2h-2zM830 482h2v2h-2zM779 483h2v2h-2zM884 483h2v2h-2zM797 484h2v2h-2zM808 485h2v2h-2zM815 486h2v2h-2zM870 487h2v2h-2zM862 487h2v2h-2zM794 488h2v2h-2zM845 489h2v2h-2zM828 490h2v2h-2zM916 490h2v2h-2zM856 492h2v2h-2zM866 493h2v2h-2zM869 493h2v2h-2zM803 494h2v2h-2zM877 495h2v2h-2zM916 495h2v2h-2zM824 495h2v2h-2zM827 495h2v2h-2zM812 496h2v2h-2zM885 497h2v2h-2zM805 498h2v1h-2zM805 499h4v1h-4zM878 498h2v2h-2zM807 500h2v1h-2zM827 499h2v2h-2zM798 500h2v2h-2zM933 501h2v2h-2zM894 502h2v2h-2zM800 502h2v2h-2zM854 501h2v4h-2zM779 504h2v2h-2zM936 504h2v2h-2zM886 505h2v2h-2zM849 506h2v2h-2zM783 509h2v2h-2z"/>
<rect x="52.5" y="46.5" width="208.60000000000002" height="208.1" fill="none" stroke="#1e1e1e" stroke-width="1.0"/>
<line x1="52.5" y1="254.6" x2="52.5" y2="260.6" stroke="#1e1e1e" stroke-width="1.0"/>
<line x1="68.5" y1="254.6" x2="68.5" y2="257.6" stroke="#1e1e1e" stroke-width="1.0"/>
<line x1="77.5" y1="254.6" x2="77.5" y2="257.6" stroke="#1e1e1e" stroke-width="1.0"/>
<line x1="83.5" y1="254.6" x2="83.5" y2="257.6" stroke="#1e1e1e" stroke-width="1.0"/>
<line x1="88.5" y1="254.6" x2="88.5" y2="259.1" stroke="#1e1e1e" stroke-width="1.0"/>
<line x1="93.5" y1="254.6" x2="93.5" y2="257.6" stroke="#1e1e1e" stroke-width="1.0"/>
<line x1="96.5" y1="254.6" x2="96.5" y2="257.6" stroke="#1e1e1e" stroke-width="1.0"/>
<line x1="99.5" y1="254.6" x2="99.5" y2="257.6" stroke="#1e1e1e" stroke-width="1.0"/>
<line x1="102.5" y1="254.6" x2="102.5" y2="257.6" stroke="#1e1e1e" stroke-width="1.0"/>
<line x1="104.5" y1="254.6" x2="104.5" y2="260.6" stroke="#1e1e1e" stroke-width="1.0"/>
<line x1="120.5" y1="254.6" x2="120.5" y2="257.6" stroke="#1e1e1e" stroke-width="1.0"/>
<line x1="129.5" y1="254.6" x2="129.5" y2="257.6" stroke="#1e1e1e" stroke-width="1.0"/>
<line x1="136.5" y1="254.6" x2="136.5" y2="257.6" stroke="#1e1e1e" stroke-width="1.0"/>
<line x1="141.5" y1="254.6" x2="141.5" y2="259.1" stroke="#1e1e1e" stroke-width="1.0"/>
<line x1="145.5" y1="254.6" x2="145.5" y2="257.6" stroke="#1e1e1e" stroke-width="1.0"/>
<line x1="148.5" y1="254.6" x2="148.5" y2="257.6" stroke="#1e1e1e" stroke-width="1.0"/>
<line x1="151.5" y1="254.6" x2="151.5" y2="257.6" stroke="#1e1e1e" stroke-width="1.0"/>
<line x1="154.5" y1="254.6" x2="154.5" y2="257.6" stroke="#1e1e1e" stroke-width="1.0"/>
<line x1="156.5" y1="254.6" x2="156.5" y2="260.6" stroke="#1e1e1e" stroke-width="1.0"/>
<line x1="172.5" y1="254.6" x2="172.5" y2="257.6" stroke="#1e1e1e" stroke-width="1.0"/>
<line x1="181.5" y1="254.6" x2="181.5" y2="257.6" stroke="#1e1e1e" stroke-width="1.0"/>
<line x1="188.5" y1="254.6" x2="188.5" y2="257.6" stroke="#1e1e1e" stroke-width="1.0"/>
<line x1="193.5" y1="254.6" x2="193.5" y2="259.1" stroke="#1e1e1e" stroke-width="1.0"/>
<line x1="197.5" y1="254.6" x2="197.5" y2="257.6" stroke="#1e1e1e" stroke-width="1.0"/>
<line x1="200.5" y1="254.6" x2="200.5" y2="257.6" stroke="#1e1e1e" stroke-width="1.0"/>
<line x1="203.5" y1="254.6" x2="203.5" y2="257.6" stroke="#1e1e1e" stroke-width="1.0"/>
<line x1="206.5" y1="254.6" x2="206.5" y2="257.6" stroke="#1e1e1e" stroke-width="1.0"/>
<line x1="208.5" y1="254.6" x2="208.5" y2="260.6" stroke="#1e1e1e" stroke-width="1.0"/>
<line x1="224.5" y1="254.6" x2="224.5" y2="257.6" stroke="#1e1e1e" stroke-width="1.0"/>
<line x1="233.5" y1="254.6" x2="233.5" y2="257.6" stroke="#1e1e1e" stroke-width="1.0"/>
<line x1="240.5" y1="254.6" x2="240.5" y2="257.6" stroke="#1e1e1e" stroke-width="1.0"/>
<line x1="245.5" y1="254.6" x2="245.5" y2="259.1" stroke="#1e1e1e" stroke-width="1.0"/>
<line x1="249.5" y1="254.6" x2="249.5" y2="257.6" stroke="#1e1e1e" stroke-width="1.0"/>
<line x1="253.5" y1="254.6" x2="253.5" y2="257.6" stroke="#1e1e1e" stroke-width="1.0"/>
<line x1="256.5" y1="254.6" x2="256.5" y2="257.6" stroke="#1e1e1e" stroke-width="1.0"/>
<line x1="258.5" y1="254.6" x2="258.5" y2="257.6" stroke="#1e1e1e" stroke-width="1.0"/>
<line x1="261.1" y1="254.6" x2="261.1" y2="260.6" stroke="#1e1e1e" stroke-width="1.0"/>
<line x1="47.5" y1="254.5" x2="52.5" y2="254.5" stroke="#1e1e1e" stroke-width="1.0"/>
<line x1="50.0" y1="238.5" x2="52.5" y2="238.5" stroke="#1e1e1e" stroke-width="1.0"/>
<line x1="50.0" y1="229.5" x2="52.5" y2="229.5" stroke="#1e1e1e" stroke-width="1.0"/>
<line x1="50.0" y1="223.5" x2="52.5" y2="223.5" stroke="#1e1e1e" stroke-width="1.0"/>
<line x1="49.0" y1="218.5" x2="52.5" y2="218.5" stroke="#1e1e1e" stroke-width="1.0"/>
<line x1="50.0" y1="214.5" x2="52.5" y2="214.5" stroke="#1e1e1e" stroke-width="1.0"/>
<line x1="50.0" y1="210.5" x2="52.5" y2="210.5" stroke="#1e1e1e" stroke-width="1.0"/>
<line x1="50.0" y1="207.5" x2="52.5" y2="207.5" stroke="#1e1e1e" stroke-width="1.0"/>
<line x1="50.0" y1="204.5" x2="52.5" y2="204.5" stroke="#1e1e1e" stroke-width="1.0"/>
<line x1="47.5" y1="202.5" x2="52.5" y2="202.5" stroke="#1e1e1e" stroke-width="1.0"/>
<line x1="50.0" y1="186.5" x2="52.5" y2="186.5" stroke="#1e1e1e" stroke-width="1.0"/>
<line x1="50.0" y1="177.5" x2="52.5" y2="177.5" stroke="#1e1e1e" stroke-width="1.0"/>
<line x1="50.0" y1="171.5" x2="52.5" y2="171.5" stroke="#1e1e1e" stroke-width="1.0"/>
<line x1="49.0" y1="166.5" x2="52.5" y2="166.5" stroke="#1e1e1e" stroke-width="1.0"/>
<line x1="50.0" y1="162.5" x2="52.5" y2="162.5" stroke="#1e1e1e" stroke-width="1.0"/>
<line x1="50.0" y1="158.5" x2="52.5" y2="158.5" stroke="#1e1e1e" stroke-width="1.0"/>
<line x1="50.0" y1="155.5" x2="52.5" y2="155.5" stroke="#1e1e1e" stroke-width="1.0"/>
<line x1="50.0" y1="152.5" x2="52.5" y2="152.5" stroke="#1e1e1e" stroke-width="1.0"/>
<line x1="47.5" y1="150.5" x2="52.5" y2="150.5" stroke="#1e1e1e" stroke-width="1.0"/>
<line x1="50.0" y1="134.5" x2="52.5" y2="134.5" stroke="#1e1e1e" stroke-width="1.0"/>
<line x1="50.0" y1="125.5" x2="52.5" y2="125.5" stroke="#1e1e1e" stroke-width="1.0"/>
<line x1="50.0" y1="119.5" x2="52.5" y2="119.5" stroke="#1e1e1e" stroke-width="1.0"/>
<line x1="49.0" y1="114.5" x2="52.5" y2="114.5" stroke="#1e1e1e" stroke-width="1.0"/>
<line x1="50.0" y1="110.5" x2="52.5" y2="110.5" stroke="#1e1e1e" stroke-width="1.0"/>
<line x1="50.0" y1="106.5" x2="52.5" y2="106.5" stroke="#1e1e1e" stroke-width="1.0"/>
<line x1="50.0" y1="103.5" x2="52.5" y2="103.5" stroke="#1e1e1e" stroke-width="1.0"/>
<line x1="50.0" y1="100.5" x2="52.5" y2="100.5" stroke="#1e1e1e" stroke-width="1.0"/>
<line x1="47.5" y1="98.5" x2="52.5" y2="98.5" stroke="#1e1e1e" stroke-width="1.0"/>
<line x1="50.0" y1="82.5" x2="52.5" y2="82.5" stroke="#1e1e1e" stroke-width="1.0"/>
<line x1="50.0" y1="73.5" x2="52.5" y2="73.5" stroke="#1e1e1e" stroke-width="1.0"/>
<line x1="50.0" y1="67.5" x2="52.5" y2="67.5" stroke="#1e1e1e" stroke-width="1.0"/>
<line x1="49.0" y1="62.5" x2="52.5" y2="62.5" stroke="#1e1e1e" stroke-width="1.0"/>
<line x1="50.0" y1="58.5" x2="52.5" y2="58.5" stroke="#1e1e1e" stroke-width="1.0"/>
<line x1="50.0" y1="54.5" x2="52.5" y2="54.5" stroke="#1e1e1e" stroke-width="1.0"/>
<line x1="50.0" y1="51.5" x2="52.5" y2="51.5" stroke="#1e1e1e" stroke-width="1.0"/>
<line x1="50.0" y1="48.5" x2="52.5" y2="48.5" stroke="#1e1e1e" stroke-width="1.0"/>
<line x1="47.5" y1="46.5" x2="52.5" y2="46.5" stroke="#1e1e1e" stroke-width="1.0"/>
<text y="274.9" font-size="10.4" fill="#111" x="52.5" text-anchor="middle">10<tspan font-size="8" dy="-4.6">0</tspan></text>
<text y="258.4" font-size="10.4" fill="#111" x="44.3" text-anchor="end">10<tspan font-size="8" dy="-4.6">0</tspan></text>
<text y="274.9" font-size="10.4" fill="#111" x="104.65" text-anchor="middle">10<tspan font-size="8" dy="-4.6">1</tspan></text>
<text y="206.375" font-size="10.4" fill="#111" x="44.3" text-anchor="end">10<tspan font-size="8" dy="-4.6">1</tspan></text>
<text y="274.9" font-size="10.4" fill="#111" x="156.8" text-anchor="middle">10<tspan font-size="8" dy="-4.6">2</tspan></text>
<text y="154.35000000000002" font-size="10.4" fill="#111" x="44.3" text-anchor="end">10<tspan font-size="8" dy="-4.6">2</tspan></text>
<text y="274.9" font-size="10.4" fill="#111" x="208.95000000000002" text-anchor="middle">10<tspan font-size="8" dy="-4.6">3</tspan></text>
<text y="102.325" font-size="10.4" fill="#111" x="44.3" text-anchor="end">10<tspan font-size="8" dy="-4.6">3</tspan></text>
<text y="274.9" font-size="10.4" fill="#111" x="261.1" text-anchor="middle">10<tspan font-size="8" dy="-4.6">4</tspan></text>
<text y="50.3" font-size="10.4" fill="#111" x="44.3" text-anchor="end">10<tspan font-size="8" dy="-4.6">4</tspan></text>
<rect x="302.5" y="47.4" width="208.2" height="208.2" fill="none" stroke="#1e1e1e" stroke-width="1.0"/>
<line x1="302.5" y1="255.6" x2="302.5" y2="261.6" stroke="#1e1e1e" stroke-width="1.0"/>
<line x1="318.5" y1="255.6" x2="318.5" y2="258.6" stroke="#1e1e1e" stroke-width="1.0"/>
<line x1="327.5" y1="255.6" x2="327.5" y2="258.6" stroke="#1e1e1e" stroke-width="1.0"/>
<line x1="333.5" y1="255.6" x2="333.5" y2="258.6" stroke="#1e1e1e" stroke-width="1.0"/>
<line x1="338.5" y1="255.6" x2="338.5" y2="260.1" stroke="#1e1e1e" stroke-width="1.0"/>
<line x1="343.5" y1="255.6" x2="343.5" y2="258.6" stroke="#1e1e1e" stroke-width="1.0"/>
<line x1="346.5" y1="255.6" x2="346.5" y2="258.6" stroke="#1e1e1e" stroke-width="1.0"/>
<line x1="349.5" y1="255.6" x2="349.5" y2="258.6" stroke="#1e1e1e" stroke-width="1.0"/>
<line x1="352.5" y1="255.6" x2="352.5" y2="258.6" stroke="#1e1e1e" stroke-width="1.0"/>
<line x1="354.5" y1="255.6" x2="354.5" y2="261.6" stroke="#1e1e1e" stroke-width="1.0"/>
<line x1="370.5" y1="255.6" x2="370.5" y2="258.6" stroke="#1e1e1e" stroke-width="1.0"/>
<line x1="379.5" y1="255.6" x2="379.5" y2="258.6" stroke="#1e1e1e" stroke-width="1.0"/>
<line x1="385.5" y1="255.6" x2="385.5" y2="258.6" stroke="#1e1e1e" stroke-width="1.0"/>
<line x1="390.5" y1="255.6" x2="390.5" y2="260.1" stroke="#1e1e1e" stroke-width="1.0"/>
<line x1="395.5" y1="255.6" x2="395.5" y2="258.6" stroke="#1e1e1e" stroke-width="1.0"/>
<line x1="398.5" y1="255.6" x2="398.5" y2="258.6" stroke="#1e1e1e" stroke-width="1.0"/>
<line x1="401.5" y1="255.6" x2="401.5" y2="258.6" stroke="#1e1e1e" stroke-width="1.0"/>
<line x1="404.5" y1="255.6" x2="404.5" y2="258.6" stroke="#1e1e1e" stroke-width="1.0"/>
<line x1="406.5" y1="255.6" x2="406.5" y2="261.6" stroke="#1e1e1e" stroke-width="1.0"/>
<line x1="422.5" y1="255.6" x2="422.5" y2="258.6" stroke="#1e1e1e" stroke-width="1.0"/>
<line x1="431.5" y1="255.6" x2="431.5" y2="258.6" stroke="#1e1e1e" stroke-width="1.0"/>
<line x1="437.5" y1="255.6" x2="437.5" y2="258.6" stroke="#1e1e1e" stroke-width="1.0"/>
<line x1="442.5" y1="255.6" x2="442.5" y2="260.1" stroke="#1e1e1e" stroke-width="1.0"/>
<line x1="447.5" y1="255.6" x2="447.5" y2="258.6" stroke="#1e1e1e" stroke-width="1.0"/>
<line x1="450.5" y1="255.6" x2="450.5" y2="258.6" stroke="#1e1e1e" stroke-width="1.0"/>
<line x1="453.5" y1="255.6" x2="453.5" y2="258.6" stroke="#1e1e1e" stroke-width="1.0"/>
<line x1="456.5" y1="255.6" x2="456.5" y2="258.6" stroke="#1e1e1e" stroke-width="1.0"/>
<line x1="458.5" y1="255.6" x2="458.5" y2="261.6" stroke="#1e1e1e" stroke-width="1.0"/>
<line x1="474.5" y1="255.6" x2="474.5" y2="258.6" stroke="#1e1e1e" stroke-width="1.0"/>
<line x1="483.5" y1="255.6" x2="483.5" y2="258.6" stroke="#1e1e1e" stroke-width="1.0"/>
<line x1="489.5" y1="255.6" x2="489.5" y2="258.6" stroke="#1e1e1e" stroke-width="1.0"/>
<line x1="495.5" y1="255.6" x2="495.5" y2="260.1" stroke="#1e1e1e" stroke-width="1.0"/>
<line x1="499.5" y1="255.6" x2="499.5" y2="258.6" stroke="#1e1e1e" stroke-width="1.0"/>
<line x1="502.5" y1="255.6" x2="502.5" y2="258.6" stroke="#1e1e1e" stroke-width="1.0"/>
<line x1="505.5" y1="255.6" x2="505.5" y2="258.6" stroke="#1e1e1e" stroke-width="1.0"/>
<line x1="508.5" y1="255.6" x2="508.5" y2="258.6" stroke="#1e1e1e" stroke-width="1.0"/>
<line x1="510.7" y1="255.6" x2="510.7" y2="261.6" stroke="#1e1e1e" stroke-width="1.0"/>
<line x1="297.5" y1="255.5" x2="302.5" y2="255.5" stroke="#1e1e1e" stroke-width="1.0"/>
<line x1="300.0" y1="239.5" x2="302.5" y2="239.5" stroke="#1e1e1e" stroke-width="1.0"/>
<line x1="300.0" y1="230.5" x2="302.5" y2="230.5" stroke="#1e1e1e" stroke-width="1.0"/>
<line x1="300.0" y1="224.5" x2="302.5" y2="224.5" stroke="#1e1e1e" stroke-width="1.0"/>
<line x1="299.0" y1="219.5" x2="302.5" y2="219.5" stroke="#1e1e1e" stroke-width="1.0"/>
<line x1="300.0" y1="215.5" x2="302.5" y2="215.5" stroke="#1e1e1e" stroke-width="1.0"/>
<line x1="300.0" y1="211.5" x2="302.5" y2="211.5" stroke="#1e1e1e" stroke-width="1.0"/>
<line x1="300.0" y1="208.5" x2="302.5" y2="208.5" stroke="#1e1e1e" stroke-width="1.0"/>
<line x1="300.0" y1="205.5" x2="302.5" y2="205.5" stroke="#1e1e1e" stroke-width="1.0"/>
<line x1="297.5" y1="203.5" x2="302.5" y2="203.5" stroke="#1e1e1e" stroke-width="1.0"/>
<line x1="300.0" y1="187.5" x2="302.5" y2="187.5" stroke="#1e1e1e" stroke-width="1.0"/>
<line x1="300.0" y1="178.5" x2="302.5" y2="178.5" stroke="#1e1e1e" stroke-width="1.0"/>
<line x1="300.0" y1="172.5" x2="302.5" y2="172.5" stroke="#1e1e1e" stroke-width="1.0"/>
<line x1="299.0" y1="167.5" x2="302.5" y2="167.5" stroke="#1e1e1e" stroke-width="1.0"/>
<line x1="300.0" y1="163.5" x2="302.5" y2="163.5" stroke="#1e1e1e" stroke-width="1.0"/>
<line x1="300.0" y1="159.5" x2="302.5" y2="159.5" stroke="#1e1e1e" stroke-width="1.0"/>
<line x1="300.0" y1="156.5" x2="302.5" y2="156.5" stroke="#1e1e1e" stroke-width="1.0"/>
<line x1="300.0" y1="153.5" x2="302.5" y2="153.5" stroke="#1e1e1e" stroke-width="1.0"/>
<line x1="297.5" y1="151.5" x2="302.5" y2="151.5" stroke="#1e1e1e" stroke-width="1.0"/>
<line x1="300.0" y1="135.5" x2="302.5" y2="135.5" stroke="#1e1e1e" stroke-width="1.0"/>
<line x1="300.0" y1="126.5" x2="302.5" y2="126.5" stroke="#1e1e1e" stroke-width="1.0"/>
<line x1="300.0" y1="120.5" x2="302.5" y2="120.5" stroke="#1e1e1e" stroke-width="1.0"/>
<line x1="299.0" y1="115.5" x2="302.5" y2="115.5" stroke="#1e1e1e" stroke-width="1.0"/>
<line x1="300.0" y1="110.5" x2="302.5" y2="110.5" stroke="#1e1e1e" stroke-width="1.0"/>
<line x1="300.0" y1="107.5" x2="302.5" y2="107.5" stroke="#1e1e1e" stroke-width="1.0"/>
<line x1="300.0" y1="104.5" x2="302.5" y2="104.5" stroke="#1e1e1e" stroke-width="1.0"/>
<line x1="300.0" y1="101.5" x2="302.5" y2="101.5" stroke="#1e1e1e" stroke-width="1.0"/>
<line x1="297.5" y1="99.5" x2="302.5" y2="99.5" stroke="#1e1e1e" stroke-width="1.0"/>
<line x1="300.0" y1="83.5" x2="302.5" y2="83.5" stroke="#1e1e1e" stroke-width="1.0"/>
<line x1="300.0" y1="74.5" x2="302.5" y2="74.5" stroke="#1e1e1e" stroke-width="1.0"/>
<line x1="300.0" y1="68.5" x2="302.5" y2="68.5" stroke="#1e1e1e" stroke-width="1.0"/>
<line x1="299.0" y1="63.5" x2="302.5" y2="63.5" stroke="#1e1e1e" stroke-width="1.0"/>
<line x1="300.0" y1="58.5" x2="302.5" y2="58.5" stroke="#1e1e1e" stroke-width="1.0"/>
<line x1="300.0" y1="55.5" x2="302.5" y2="55.5" stroke="#1e1e1e" stroke-width="1.0"/>
<line x1="300.0" y1="52.5" x2="302.5" y2="52.5" stroke="#1e1e1e" stroke-width="1.0"/>
<line x1="300.0" y1="49.5" x2="302.5" y2="49.5" stroke="#1e1e1e" stroke-width="1.0"/>
<line x1="297.5" y1="47.4" x2="302.5" y2="47.4" stroke="#1e1e1e" stroke-width="1.0"/>
<text y="275.3" font-size="10.4" fill="#111" x="302.5" text-anchor="middle">10<tspan font-size="8" dy="-4.6">0</tspan></text>
<text y="259.4" font-size="10.4" fill="#111" x="294.3" text-anchor="end">10<tspan font-size="8" dy="-4.6">0</tspan></text>
<text y="275.3" font-size="10.4" fill="#111" x="354.55" text-anchor="middle">10<tspan font-size="8" dy="-4.6">1</tspan></text>
<text y="207.35000000000002" font-size="10.4" fill="#111" x="294.3" text-anchor="end">10<tspan font-size="8" dy="-4.6">1</tspan></text>
<text y="275.3" font-size="10.4" fill="#111" x="406.6" text-anchor="middle">10<tspan font-size="8" dy="-4.6">2</tspan></text>
<text y="155.3" font-size="10.4" fill="#111" x="294.3" text-anchor="end">10<tspan font-size="8" dy="-4.6">2</tspan></text>
<text y="275.3" font-size="10.4" fill="#111" x="458.65" text-anchor="middle">10<tspan font-size="8" dy="-4.6">3</tspan></text>
<text y="103.25000000000001" font-size="10.4" fill="#111" x="294.3" text-anchor="end">10<tspan font-size="8" dy="-4.6">3</tspan></text>
<text y="275.3" font-size="10.4" fill="#111" x="510.7" text-anchor="middle">10<tspan font-size="8" dy="-4.6">4</tspan></text>
<text y="51.2" font-size="10.4" fill="#111" x="294.3" text-anchor="end">10<tspan font-size="8" dy="-4.6">4</tspan></text>
<line x1="127.8" y1="46.5" x2="127.8" y2="254.6" stroke="#3a3a3a" stroke-width="1.0"/>
<line x1="52.5" y1="163.5" x2="261.1" y2="163.5" stroke="#5a5a5a" stroke-width="1.0"/>
<line x1="377.5" y1="47.4" x2="377.5" y2="255.6" stroke="#555" stroke-width="1.0"/>
<line x1="302.5" y1="164.5" x2="510.7" y2="164.5" stroke="#555" stroke-width="1.0"/>
<text x="209.6" y="65.8" font-size="14.4" font-weight="bold" text-anchor="start" fill="#111" >0.43%</text>
<text x="456.2" y="66.2" font-size="14.4" font-weight="bold" text-anchor="start" fill="#111" >8.53%</text>
<text transform="translate(13.2,224.4) rotate(-90)" font-size="14.5" font-weight="bold" fill="#111">LYL8-Tetramer - PE</text>
<line x1="9" y1="90" x2="9" y2="52" stroke="#1e1e1e" stroke-width="1.2"/>
<path d="M9 42 L13.5 53.5 L4.5 53.5 Z" fill="#1e1e1e"/>
<line x1="9" y1="231.5" x2="9" y2="266" stroke="#1e1e1e" stroke-width="1.2"/>
<text x="247.3" y="295.3" font-size="14.3" font-weight="bold" text-anchor="start" fill="#111" >CD8 - FITC</text>
<line x1="49" y1="289.5" x2="243" y2="289.5" stroke="#1e1e1e" stroke-width="1.2"/>
<line x1="325" y1="289.5" x2="501" y2="289.5" stroke="#1e1e1e" stroke-width="1.2"/>
<path d="M512 289.5 L499 285.5 L499 293.5 Z" fill="#1e1e1e"/>
<text x="0" y="316.6" font-size="36" font-weight="bold" text-anchor="start" fill="#111" stroke="#111" stroke-width="0.5">B</text>
<path transform="scale(0.5)" fill="#1a1a1a" fill-opacity="1.0" d="M442 858h2v2h-2zM374 858h2v2h-2zM456 859h2v2h-2zM385 859h2v2h-2zM401 859h2v2h-2zM413 860h2v1h-2zM392 859h2v2h-2zM431 859h2v2h-2zM448 860h2v2h-2zM403 861h2v1h-2zM406 860h4v2h-4zM398 859h2v4h-2zM413 861h3v2h-3zM281 862h2v1h-2zM406 862h3v1h-3zM264 862h2v2h-2zM402 862h3v2h-3zM305 862h2v2h-2zM281 863h3v1h-3zM414 863h2v1h-2zM421 863h2v1h-2zM454 862h2v2h-2zM237 862h2v2h-2zM352 862h2v2h-2zM418 860h2v4h-2zM365 863h2v1h-2zM429 862h2v2h-2zM410 864h2v1h-2zM373 863h2v2h-2zM365 864h4v1h-4zM414 864h9v1h-9zM391 863h3v2h-3zM442 864h2v1h-2zM383 863h2v2h-2zM438 863h2v2h-2zM403 864h2v1h-2zM285 864h2v2h-2zM432 864h2v2h-2zM343 865h2v1h-2zM312 864h2v2h-2zM459 864h2v2h-2zM367 865h2v1h-2zM297 864h2v2h-2zM422 865h2v1h-2zM401 865h2v1h-2zM282 864h2v2h-2zM429 865h2v1h-2zM406 865h6v1h-6zM442 865h4v1h-4zM413 865h8v1h-8zM417 866h4v1h-4zM452 865h4v2h-4zM429 866h3v1h-3zM435 865h3v2h-3zM400 866h3v1h-3zM362 865h2v2h-2zM281 866h2v1h-2zM449 866h2v1h-2zM422 866h5v1h-5zM413 866h2v1h-2zM404 866h7v1h-7zM279 867h4v1h-4zM444 866h2v2h-2zM414 867h2v1h-2zM284 866h2v2h-2zM417 867h15v1h-15zM342 866h3v2h-3zM400 867h11v1h-11zM464 867h2v1h-2zM449 867h8v1h-8zM440 867h2v1h-2zM272 866h4v2h-4zM462 868h4v1h-4zM450 868h7v1h-7zM401 868h3v1h-3zM439 868h3v1h-3zM279 868h2v1h-2zM405 868h2v1h-2zM421 868h8v1h-8zM395 867h2v2h-2zM379 867h2v2h-2zM336 867h2v2h-2zM369 867h2v2h-2zM353 867h2v2h-2zM387 867h2v2h-2zM398 868h2v1h-2zM409 868h7v1h-7zM398 869h5v1h-5zM450 869h4v1h-4zM443 868h6v2h-6zM408 869h7v1h-7zM343 868h2v2h-2zM460 869h5v1h-5zM416 869h5v1h-5zM423 869h5v1h-5zM382 869h2v1h-2zM399 870h2v1h-2zM442 870h3v1h-3zM460 870h6v1h-6zM267 869h2v2h-2zM382 870h3v1h-3zM274 869h2v2h-2zM372 870h2v1h-2zM378 869h2v2h-2zM229 869h2v2h-2zM446 870h9v1h-9zM422 870h2v1h-2zM363 870h2v1h-2zM406 870h6v1h-6zM413 870h8v1h-8zM278 869h2v2h-2zM429 870h4v2h-4zM462 871h4v1h-4zM392 870h2v2h-2zM410 871h4v1h-4zM288 870h2v2h-2zM372 871h3v1h-3zM452 871h3v1h-3zM284 871h2v1h-2zM442 871h8v1h-8zM383 871h2v1h-2zM258 870h2v2h-2zM425 871h2v1h-2zM439 869h2v3h-2zM415 871h9v1h-9zM435 870h2v2h-2zM327 870h2v2h-2zM467 871h2v1h-2zM437 872h2v1h-2zM448 872h2v1h-2zM456 872h2v1h-2zM373 872h2v1h-2zM440 872h7v1h-7zM361 871h4v2h-4zM317 871h2v2h-2zM234 871h2v2h-2zM389 872h2v1h-2zM411 872h3v1h-3zM428 872h2v1h-2zM416 872h11v1h-11zM452 872h2v1h-2zM399 871h5v2h-5zM431 872h2v1h-2zM465 872h5v1h-5zM422 873h4v1h-4zM406 871h2v3h-2zM435 873h4v1h-4zM381 872h2v2h-2zM295 872h3v2h-3zM468 873h2v1h-2zM343 872h2v2h-2zM411 873h10v1h-10zM241 872h2v2h-2zM333 872h2v2h-2zM401 873h2v1h-2zM440 873h18v1h-18zM281 872h5v2h-5zM428 873h5v1h-5zM465 873h2v1h-2zM429 874h4v1h-4zM444 874h8v1h-8zM467 874h3v1h-3zM389 873h3v2h-3zM399 874h7v1h-7zM393 873h2v2h-2zM453 874h3v1h-3zM411 874h13v1h-13zM460 873h2v2h-2zM224 873h2v2h-2zM349 873h2v2h-2zM227 874h2v1h-2zM425 874h2v1h-2zM435 874h8v1h-8zM354 873h2v2h-2zM235 874h2v1h-2zM399 875h2v1h-2zM428 875h4v1h-4zM402 875h4v1h-4zM235 875h4v1h-4zM458 875h4v1h-4zM227 875h5v1h-5zM288 874h2v2h-2zM359 874h2v2h-2zM375 874h2v2h-2zM436 875h19v1h-19zM280 874h2v2h-2zM248 874h2v2h-2zM411 875h16v1h-16zM299 874h2v2h-2zM465 875h5v1h-5zM284 876h2v1h-2zM268 875h2v2h-2zM423 876h7v1h-7zM378 874h2v3h-2zM237 876h2v1h-2zM389 875h2v2h-2zM457 876h5v1h-5zM418 876h4v1h-4zM403 876h3v1h-3zM371 874h2v3h-2zM384 875h2v2h-2zM320 875h2v2h-2zM465 876h2v1h-2zM439 876h17v1h-17zM228 876h4v1h-4zM346 873h2v4h-2zM368 876h2v1h-2zM411 876h6v1h-6zM436 876h2v1h-2zM444 877h5v1h-5zM288 876h3v2h-3zM381 876h2v2h-2zM354 876h4v2h-4zM284 877h3v1h-3zM392 876h2v2h-2zM419 877h7v1h-7zM427 877h7v1h-7zM367 877h3v1h-3zM436 877h3v1h-3zM317 876h2v2h-2zM333 876h2v2h-2zM411 877h7v1h-7zM242 876h2v2h-2zM374 876h3v2h-3zM228 877h2v1h-2zM450 877h11v1h-11zM441 877h2v1h-2zM323 877h2v2h-2zM285 878h2v1h-2zM226 878h4v1h-4zM367 878h2v1h-2zM343 877h4v2h-4zM400 877h8v2h-8zM463 877h2v2h-2zM430 878h4v1h-4zM337 877h2v2h-2zM264 877h3v2h-3zM349 877h2v2h-2zM435 878h27v1h-27zM390 878h4v2h-4zM448 879h8v1h-8zM249 878h2v2h-2zM411 878h17v2h-17zM399 879h7v1h-7zM457 879h5v1h-5zM226 879h2v1h-2zM385 877h2v3h-2zM407 879h2v1h-2zM375 878h2v2h-2zM354 879h2v1h-2zM431 879h2v1h-2zM435 879h11v1h-11zM384 880h4v1h-4zM373 880h2v1h-2zM391 880h4v1h-4zM287 879h2v2h-2zM407 880h3v1h-3zM354 880h7v1h-7zM457 880h3v1h-3zM466 878h2v3h-2zM363 880h2v1h-2zM411 880h22v1h-22zM266 879h2v2h-2zM332 879h2v2h-2zM327 878h2v3h-2zM435 880h21v1h-21zM469 879h2v2h-2zM290 879h2v2h-2zM356 881h5v1h-5zM249 881h2v1h-2zM343 880h2v2h-2zM236 880h2v2h-2zM413 881h19v1h-19zM280 880h2v2h-2zM275 880h2v2h-2zM271 881h2v1h-2zM372 881h5v1h-5zM265 881h2v1h-2zM434 881h2v1h-2zM384 881h5v1h-5zM408 881h2v1h-2zM363 881h5v1h-5zM437 881h25v1h-25zM398 880h8v2h-8zM263 882h4v1h-4zM248 882h3v1h-3zM399 882h7v1h-7zM407 882h2v1h-2zM387 882h2v1h-2zM356 882h2v1h-2zM271 882h4v1h-4zM426 882h6v1h-6zM411 882h14v1h-14zM255 881h2v2h-2zM224 881h2v2h-2zM434 882h28v1h-28zM391 881h5v2h-5zM363 882h7v1h-7zM384 882h2v1h-2zM375 882h2v1h-2zM474 881h2v2h-2zM359 882h3v1h-3zM294 881h4v2h-4zM384 883h4v1h-4zM363 883h4v1h-4zM391 883h7v1h-7zM317 882h3v2h-3zM288 881h2v3h-2zM403 883h29v1h-29zM302 882h4v2h-4zM468 882h2v2h-2zM372 882h2v2h-2zM296 883h2v1h-2zM234 882h2v2h-2zM438 883h24v1h-24zM216 882h2v2h-2zM368 883h2v1h-2zM273 883h2v1h-2zM435 883h2v1h-2zM465 882h2v2h-2zM360 883h2v1h-2zM246 883h4v2h-4zM404 884h10v1h-10zM276 883h2v2h-2zM371 884h3v1h-3zM343 883h2v2h-2zM241 883h2v2h-2zM263 883h2v2h-2zM364 884h3v1h-3zM399 883h3v2h-3zM291 883h2v2h-2zM460 884h2v1h-2zM352 883h2v2h-2zM303 884h2v1h-2zM439 884h18v1h-18zM415 884h16v1h-16zM227 883h2v2h-2zM392 884h2v1h-2zM386 884h5v1h-5zM264 885h2v1h-2zM369 885h4v1h-4zM463 884h4v2h-4zM404 885h3v1h-3zM409 885h15v1h-15zM399 885h4v1h-4zM359 884h2v2h-2zM291 885h3v1h-3zM425 885h6v1h-6zM237 884h2v2h-2zM248 885h2v1h-2zM232 884h2v2h-2zM383 885h11v1h-11zM396 884h2v2h-2zM380 884h2v2h-2zM337 883h2v3h-2zM436 885h24v1h-24zM390 886h4v1h-4zM344 885h2v2h-2zM434 886h26v1h-26zM383 886h3v1h-3zM356 886h4v1h-4zM253 885h2v2h-2zM331 885h2v2h-2zM234 886h2v1h-2zM387 886h2v1h-2zM409 886h23v1h-23zM369 886h2v1h-2zM264 886h3v1h-3zM396 886h11v1h-11zM230 886h2v1h-2zM228 887h8v1h-8zM385 887h4v1h-4zM396 887h4v1h-4zM409 887h16v1h-16zM356 887h5v1h-5zM401 887h7v1h-7zM426 887h6v1h-6zM381 887h3v1h-3zM372 886h2v2h-2zM296 886h2v2h-2zM286 886h2v2h-2zM465 886h3v2h-3zM292 886h2v2h-2zM318 886h2v2h-2zM265 887h2v1h-2zM434 887h24v1h-24zM392 887h2v1h-2zM409 888h15v1h-15zM359 888h2v1h-2zM350 885h2v4h-2zM462 888h5v1h-5zM244 887h2v2h-2zM332 887h2v2h-2zM365 887h2v2h-2zM356 888h2v1h-2zM398 888h5v1h-5zM269 887h4v2h-4zM248 887h2v2h-2zM259 886h2v3h-2zM436 888h25v1h-25zM228 888h2v1h-2zM391 888h2v1h-2zM291 888h3v1h-3zM381 888h6v1h-6zM425 888h6v1h-6zM232 888h2v1h-2zM280 887h2v2h-2zM404 888h4v1h-4zM328 887h2v2h-2zM391 889h4v1h-4zM462 889h4v1h-4zM255 889h6v1h-6zM354 889h4v1h-4zM396 889h7v1h-7zM435 889h26v1h-26zM376 888h2v2h-2zM379 889h9v1h-9zM307 888h2v2h-2zM471 889h2v1h-2zM291 889h4v1h-4zM396 890h4v1h-4zM425 889h8v2h-8zM245 889h4v2h-4zM405 889h19v2h-19zM293 890h2v1h-2zM393 890h2v1h-2zM470 890h3v1h-3zM435 890h31v1h-31zM297 889h2v2h-2zM221 889h2v2h-2zM401 890h2v1h-2zM233 889h2v2h-2zM354 890h3v1h-3zM386 890h2v1h-2zM390 890h2v1h-2zM255 890h4v1h-4zM378 890h5v1h-5zM268 890h2v1h-2zM398 891h5v1h-5zM372 891h10v1h-10zM385 891h3v1h-3zM326 890h2v2h-2zM359 890h2v2h-2zM405 891h9v1h-9zM240 890h2v2h-2zM355 891h2v1h-2zM345 889h2v3h-2zM237 890h2v2h-2zM362 887h2v5h-2zM415 891h12v1h-12zM227 890h2v2h-2zM470 891h2v1h-2zM245 891h2v1h-2zM464 891h4v1h-4zM268 891h3v1h-3zM285 891h2v2h-2zM399 892h2v1h-2zM293 891h4v2h-4zM429 891h4v2h-4zM240 892h4v1h-4zM372 892h6v1h-6zM389 891h6v2h-6zM417 892h9v1h-9zM366 889h3v4h-3zM269 892h2v1h-2zM282 892h2v1h-2zM383 892h5v1h-5zM405 892h11v1h-11zM380 892h2v1h-2zM355 892h4v1h-4zM289 891h2v2h-2zM339 890h2v3h-2zM401 893h2v1h-2zM417 893h16v1h-16zM389 893h3v1h-3zM372 893h2v1h-2zM242 893h2v1h-2zM321 891h2v3h-2zM343 892h2v2h-2zM376 893h2v1h-2zM404 893h12v1h-12zM292 893h2v1h-2zM369 893h2v1h-2zM252 891h2v3h-2zM236 892h3v2h-3zM379 893h6v1h-6zM282 893h6v1h-6zM298 892h2v2h-2zM395 893h5v1h-5zM386 893h2v1h-2zM278 892h2v2h-2zM464 892h7v2h-7zM258 892h2v2h-2zM357 893h2v1h-2zM227 893h2v1h-2zM435 891h28v3h-28zM319 894h4v1h-4zM284 894h4v1h-4zM369 894h4v1h-4zM227 894h4v1h-4zM401 894h32v1h-32zM436 894h23v1h-23zM252 894h3v1h-3zM262 893h2v2h-2zM385 894h15v1h-15zM237 894h2v1h-2zM313 892h2v3h-2zM246 894h2v1h-2zM257 894h3v1h-3zM271 893h2v2h-2zM265 894h2v1h-2zM460 894h8v1h-8zM376 894h7v1h-7zM256 895h4v1h-4zM246 895h3v1h-3zM377 895h7v1h-7zM253 895h2v1h-2zM229 895h2v1h-2zM319 895h2v1h-2zM291 894h4v2h-4zM392 895h4v1h-4zM265 895h3v1h-3zM422 895h2v1h-2zM336 895h2v1h-2zM436 895h31v1h-31zM468 895h2v1h-2zM371 895h2v1h-2zM278 895h2v1h-2zM385 895h6v1h-6zM430 895h2v1h-2zM397 895h23v1h-23zM425 895h2v1h-2zM245 896h4v1h-4zM464 896h6v1h-6zM391 896h3v1h-3zM297 895h2v2h-2zM385 896h2v1h-2zM275 896h5v1h-5zM266 896h2v1h-2zM404 896h58v1h-58zM398 896h5v1h-5zM256 896h6v1h-6zM360 895h2v2h-2zM241 895h2v2h-2zM250 895h2v2h-2zM351 896h2v1h-2zM221 895h2v2h-2zM395 896h2v1h-2zM375 896h2v1h-2zM336 896h4v1h-4zM380 896h4v1h-4zM324 895h2v2h-2zM293 896h2v1h-2zM372 897h7v1h-7zM359 897h3v1h-3zM334 897h6v1h-6zM466 897h3v1h-3zM399 897h65v1h-65zM391 897h7v1h-7zM350 897h3v1h-3zM305 896h2v2h-2zM258 897h5v1h-5zM368 897h2v1h-2zM364 896h2v2h-2zM245 897h2v1h-2zM268 897h2v1h-2zM275 897h4v1h-4zM366 898h4v1h-4zM359 898h2v1h-2zM350 898h2v1h-2zM473 898h2v1h-2zM435 898h33v1h-33zM314 897h2v2h-2zM380 897h2v2h-2zM261 898h2v1h-2zM372 898h4v1h-4zM385 897h4v2h-4zM267 898h3v1h-3zM272 897h2v2h-2zM250 898h2v1h-2zM334 898h4v1h-4zM377 898h2v1h-2zM432 898h2v1h-2zM236 897h2v2h-2zM400 898h31v1h-31zM390 898h8v1h-8zM400 899h33v1h-33zM386 899h10v1h-10zM240 898h4v2h-4zM472 899h3v1h-3zM284 898h2v2h-2zM379 899h3v1h-3zM366 899h3v1h-3zM372 899h5v1h-5zM435 899h28v1h-28zM293 898h2v2h-2zM250 899h7v1h-7zM321 898h2v2h-2zM267 899h7v1h-7zM290 898h2v2h-2zM375 900h7v1h-7zM402 900h3v1h-3zM383 899h2v2h-2zM435 900h27v1h-27zM367 900h2v1h-2zM226 900h2v1h-2zM237 899h2v2h-2zM261 900h2v1h-2zM252 900h5v1h-5zM397 900h3v1h-3zM393 900h2v1h-2zM411 900h22v1h-22zM353 900h2v1h-2zM408 900h2v1h-2zM464 899h4v2h-4zM471 900h3v1h-3zM258 898h2v3h-2zM234 899h2v2h-2zM269 900h5v1h-5zM264 900h2v2h-2zM353 901h4v1h-4zM470 901h3v1h-3zM363 900h2v2h-2zM310 900h2v2h-2zM402 901h30v1h-30zM246 900h2v2h-2zM314 900h2v2h-2zM369 901h2v1h-2zM434 901h34v1h-34zM305 900h2v2h-2zM260 901h3v1h-3zM393 901h8v1h-8zM232 901h2v1h-2zM254 901h2v1h-2zM289 900h2v2h-2zM224 901h4v1h-4zM383 901h3v1h-3zM333 900h2v2h-2zM346 901h2v1h-2zM387 900h5v3h-5zM230 902h4v1h-4zM418 902h14v1h-14zM374 902h2v1h-2zM403 902h14v1h-14zM260 902h2v1h-2zM346 902h6v1h-6zM434 902h38v1h-38zM394 902h3v1h-3zM319 901h2v2h-2zM224 902h2v1h-2zM249 902h2v1h-2zM384 902h2v1h-2zM354 902h3v1h-3zM367 902h5v1h-5zM377 901h2v2h-2zM304 902h2v2h-2zM348 903h4v1h-4zM398 902h4v2h-4zM367 903h9v1h-9zM249 903h3v1h-3zM253 902h2v2h-2zM242 903h2v1h-2zM275 902h2v2h-2zM237 903h2v1h-2zM270 902h2v2h-2zM404 903h27v1h-27zM221 902h2v2h-2zM432 903h32v1h-32zM230 903h2v1h-2zM465 903h5v1h-5zM398 904h9v1h-9zM248 904h4v1h-4zM387 903h7v2h-7zM237 904h3v1h-3zM322 904h2v1h-2zM350 904h2v1h-2zM365 904h12v1h-12zM280 902h2v3h-2zM408 904h18v1h-18zM242 904h5v1h-5zM473 903h2v2h-2zM354 903h2v2h-2zM320 905h4v1h-4zM238 905h2v1h-2zM260 904h2v2h-2zM350 905h3v1h-3zM427 904h45v2h-45zM244 905h3v1h-3zM358 903h2v3h-2zM378 905h2v1h-2zM313 904h2v2h-2zM384 905h2v1h-2zM387 905h9v1h-9zM347 904h2v2h-2zM375 905h2v1h-2zM365 905h2v1h-2zM411 905h15v1h-15zM264 905h2v2h-2zM253 906h2v1h-2zM310 905h2v2h-2zM388 906h4v1h-4zM393 906h3v1h-3zM411 906h17v1h-17zM384 906h3v1h-3zM248 905h2v2h-2zM285 902h2v5h-2zM397 905h12v2h-12zM468 906h2v1h-2zM371 905h2v2h-2zM271 905h3v2h-3zM351 906h2v1h-2zM230 905h2v2h-2zM331 905h2v2h-2zM320 906h2v1h-2zM376 906h4v1h-4zM302 905h2v2h-2zM434 906h33v1h-33zM355 905h2v2h-2zM293 904h2v3h-2zM429 906h4v2h-4zM464 907h6v1h-6zM392 907h4v1h-4zM434 907h29v1h-29zM398 907h4v1h-4zM288 906h2v2h-2zM272 907h2v1h-2zM236 906h2v2h-2zM403 907h6v1h-6zM227 906h2v2h-2zM298 906h2v2h-2zM252 907h3v1h-3zM473 906h2v2h-2zM327 906h2v2h-2zM376 907h7v1h-7zM410 907h18v1h-18zM356 907h2v2h-2zM391 908h3v1h-3zM375 908h3v1h-3zM267 908h2v1h-2zM250 908h4v1h-4zM414 908h50v1h-50zM367 907h2v2h-2zM405 908h8v1h-8zM307 907h2v2h-2zM466 908h2v1h-2zM257 907h3v2h-3zM282 907h2v2h-2zM364 908h2v1h-2zM379 908h5v1h-5zM385 907h5v2h-5zM398 908h2v1h-2zM375 909h4v1h-4zM233 908h2v2h-2zM220 906h2v4h-2zM354 909h2v1h-2zM241 908h3v2h-3zM369 909h2v1h-2zM349 908h2v2h-2zM388 909h6v1h-6zM250 909h2v1h-2zM469 908h6v2h-6zM395 909h2v1h-2zM245 908h2v2h-2zM344 908h2v2h-2zM261 908h4v2h-4zM380 909h7v1h-7zM398 909h3v1h-3zM266 909h3v1h-3zM403 909h63v1h-63zM362 909h4v1h-4zM228 909h2v2h-2zM376 910h3v1h-3zM398 910h32v1h-32zM365 910h6v1h-6zM253 909h2v2h-2zM362 910h2v1h-2zM270 908h2v3h-2zM243 910h2v1h-2zM274 909h5v2h-5zM435 910h38v1h-38zM266 910h2v1h-2zM383 910h14v1h-14zM380 910h2v1h-2zM352 910h4v2h-4zM387 911h12v1h-12zM464 911h9v1h-9zM225 910h2v2h-2zM280 910h2v2h-2zM286 910h2v2h-2zM249 910h2v2h-2zM363 911h8v1h-8zM425 911h5v1h-5zM400 911h24v1h-24zM235 910h2v2h-2zM378 911h4v1h-4zM435 911h27v1h-27zM356 912h2v1h-2zM363 912h4v1h-4zM397 912h6v1h-6zM389 912h7v1h-7zM243 911h4v2h-4zM385 912h3v1h-3zM378 912h3v1h-3zM405 912h12v1h-12zM465 912h3v1h-3zM418 912h15v1h-15zM346 911h2v2h-2zM374 911h2v2h-2zM369 912h2v1h-2zM435 912h28v1h-28zM360 912h2v1h-2zM382 912h2v1h-2zM356 913h8v1h-8zM417 913h16v1h-16zM396 913h6v1h-6zM262 913h2v1h-2zM472 912h2v2h-2zM407 913h9v1h-9zM256 912h3v2h-3zM243 913h2v1h-2zM298 912h2v2h-2zM389 913h5v1h-5zM332 913h2v1h-2zM469 913h2v1h-2zM374 913h14v2h-14zM231 914h2v1h-2zM435 913h33v2h-33zM396 914h7v1h-7zM281 913h3v2h-3zM469 914h3v1h-3zM331 914h3v1h-3zM222 913h3v2h-3zM362 914h2v1h-2zM324 913h2v2h-2zM262 914h8v1h-8zM412 914h18v1h-18zM391 914h2v1h-2zM431 914h2v1h-2zM404 914h7v1h-7zM366 914h4v2h-4zM374 915h2v1h-2zM400 915h24v1h-24zM354 914h2v2h-2zM464 915h2v1h-2zM378 915h2v1h-2zM292 913h2v3h-2zM470 915h2v1h-2zM393 915h2v1h-2zM384 915h2v1h-2zM331 915h2v1h-2zM264 915h6v1h-6zM231 915h3v1h-3zM397 915h2v1h-2zM247 914h2v2h-2zM227 914h2v2h-2zM435 915h28v1h-28zM381 915h2v1h-2zM427 915h5v1h-5zM426 916h6v1h-6zM466 916h3v1h-3zM391 916h8v1h-8zM435 916h29v1h-29zM259 915h4v2h-4zM350 915h3v2h-3zM400 916h19v1h-19zM267 916h2v1h-2zM358 914h2v3h-2zM280 915h2v2h-2zM232 916h2v1h-2zM303 915h2v2h-2zM378 916h5v1h-5zM244 915h2v2h-2zM473 915h2v2h-2zM235 915h2v2h-2zM367 916h4v1h-4zM384 916h4v2h-4zM395 917h4v1h-4zM264 916h2v2h-2zM402 917h4v1h-4zM252 916h4v2h-4zM380 917h3v1h-3zM391 917h3v1h-3zM272 916h2v2h-2zM373 917h4v1h-4zM345 916h2v2h-2zM362 916h2v2h-2zM426 917h5v1h-5zM407 917h12v1h-12zM282 917h2v1h-2zM369 917h2v1h-2zM434 917h37v1h-37zM420 916h5v2h-5zM434 918h29v1h-29zM249 917h2v2h-2zM409 918h9v1h-9zM233 917h2v2h-2zM431 918h2v1h-2zM420 918h2v1h-2zM323 917h2v2h-2zM390 918h4v1h-4zM267 917h4v2h-4zM282 918h4v1h-4zM301 918h2v1h-2zM464 918h2v1h-2zM224 917h2v2h-2zM404 918h2v1h-2zM469 918h3v1h-3zM276 917h2v2h-2zM395 918h5v1h-5zM473 917h3v2h-3zM382 918h7v1h-7zM373 918h7v1h-7zM368 918h2v1h-2zM238 917h2v2h-2zM489 917h2v2h-2zM423 918h5v1h-5zM429 919h4v1h-4zM300 919h3v1h-3zM390 919h3v1h-3zM409 919h19v1h-19zM374 919h6v1h-6zM350 918h2v2h-2zM242 918h2v2h-2zM435 919h31v1h-31zM319 918h2v2h-2zM254 918h2v2h-2zM394 919h6v1h-6zM358 918h2v2h-2zM245 918h2v2h-2zM381 919h8v1h-8zM284 919h4v2h-4zM397 920h3v1h-3zM381 920h4v1h-4zM386 920h10v1h-10zM375 920h3v1h-3zM403 919h3v2h-3zM295 918h2v3h-2zM300 920h2v1h-2zM408 920h25v1h-25zM228 919h2v2h-2zM368 919h5v2h-5zM354 919h2v2h-2zM395 921h4v1h-4zM378 921h4v1h-4zM384 921h10v1h-10zM406 921h4v1h-4zM336 921h3v1h-3zM241 920h2v2h-2zM253 920h2v2h-2zM367 921h2v1h-2zM400 921h2v1h-2zM470 919h2v3h-2zM363 920h2v2h-2zM427 921h6v1h-6zM473 921h2v1h-2zM256 920h2v2h-2zM278 921h2v1h-2zM411 921h9v1h-9zM268 920h2v2h-2zM434 920h33v3h-33zM365 922h4v1h-4zM398 922h4v1h-4zM278 922h4v1h-4zM472 922h3v1h-3zM333 922h6v1h-6zM391 922h6v1h-6zM301 921h2v2h-2zM296 921h2v2h-2zM377 922h6v1h-6zM384 922h2v1h-2zM405 922h14v1h-14zM387 922h2v1h-2zM422 921h4v3h-4zM403 923h14v1h-14zM371 922h3v2h-3zM377 923h10v1h-10zM470 923h4v1h-4zM434 923h35v1h-35zM398 923h3v1h-3zM388 923h2v1h-2zM280 923h2v1h-2zM251 923h2v1h-2zM352 922h2v2h-2zM266 922h2v2h-2zM333 923h4v1h-4zM365 923h2v1h-2zM391 923h5v1h-5zM418 923h2v1h-2zM396 924h2v1h-2zM407 924h2v1h-2zM233 924h2v1h-2zM418 924h8v1h-8zM388 924h4v1h-4zM431 923h2v2h-2zM257 924h2v1h-2zM250 924h3v1h-3zM348 924h4v1h-4zM287 923h3v2h-3zM358 923h2v2h-2zM470 924h2v1h-2zM383 924h4v1h-4zM393 924h2v1h-2zM245 923h2v2h-2zM377 924h5v1h-5zM436 924h33v1h-33zM236 923h2v2h-2zM260 924h2v1h-2zM401 924h5v1h-5zM240 924h2v1h-2zM434 925h36v1h-36zM257 925h5v1h-5zM266 925h4v1h-4zM413 924h4v2h-4zM409 925h3v1h-3zM233 925h4v1h-4zM401 925h6v1h-6zM348 925h6v1h-6zM263 924h2v2h-2zM274 924h2v2h-2zM367 924h2v2h-2zM385 925h2v1h-2zM304 924h2v2h-2zM223 924h2v2h-2zM375 925h5v1h-5zM434 926h26v1h-26zM389 925h3v2h-3zM352 926h2v1h-2zM235 926h2v1h-2zM266 926h8v1h-8zM240 925h4v2h-4zM358 926h2v1h-2zM414 926h4v1h-4zM383 926h4v1h-4zM467 926h3v1h-3zM249 925h6v2h-6zM393 925h5v2h-5zM461 926h5v1h-5zM364 925h2v2h-2zM375 926h2v1h-2zM378 926h4v1h-4zM419 925h14v2h-14zM291 925h2v2h-2zM282 924h2v3h-2zM489 925h2v2h-2zM401 926h11v1h-11zM378 927h7v1h-7zM436 927h30v1h-30zM262 926h3v2h-3zM258 926h3v2h-3zM240 927h2v1h-2zM279 926h2v2h-2zM416 927h18v1h-18zM318 926h2v2h-2zM390 927h2v1h-2zM298 926h2v2h-2zM386 927h2v1h-2zM267 927h7v1h-7zM400 927h14v1h-14zM357 927h4v2h-4zM432 928h2v1h-2zM385 928h4v1h-4zM259 928h4v1h-4zM436 928h33v1h-33zM417 928h9v1h-9zM407 928h9v1h-9zM287 928h2v1h-2zM472 927h2v2h-2zM381 928h2v1h-2zM394 928h12v1h-12zM287 929h4v1h-4zM266 928h4v2h-4zM344 928h2v2h-2zM323 928h4v2h-4zM414 929h12v1h-12zM427 928h4v2h-4zM375 928h2v2h-2zM253 927h2v3h-2zM237 929h2v1h-2zM280 928h2v2h-2zM276 929h2v1h-2zM435 929h34v1h-34zM384 929h5v1h-5zM261 929h2v1h-2zM402 929h5v1h-5zM394 929h6v1h-6zM408 929h5v1h-5zM231 929h2v2h-2zM274 930h4v1h-4zM403 930h4v1h-4zM435 930h29v1h-29zM427 930h6v1h-6zM289 930h2v1h-2zM348 930h2v1h-2zM237 930h6v1h-6zM372 929h2v2h-2zM408 930h6v1h-6zM286 930h2v1h-2zM297 929h2v2h-2zM471 929h2v2h-2zM394 930h3v1h-3zM362 929h2v2h-2zM379 929h2v2h-2zM421 930h5v1h-5zM415 930h5v1h-5zM394 931h2v1h-2zM239 931h6v1h-6zM356 931h2v1h-2zM265 930h3v2h-3zM464 931h2v1h-2zM400 930h2v2h-2zM435 931h28v1h-28zM380 931h2v1h-2zM416 931h4v1h-4zM284 931h4v1h-4zM363 931h4v1h-4zM421 931h3v1h-3zM273 931h6v1h-6zM348 931h3v1h-3zM223 930h2v2h-2zM403 931h12v1h-12zM383 930h9v2h-9zM249 930h2v2h-2zM370 931h2v1h-2zM425 931h8v1h-8zM276 932h7v1h-7zM359 930h2v3h-2zM284 932h2v1h-2zM330 932h2v1h-2zM423 932h4v1h-4zM370 932h4v1h-4zM349 932h2v1h-2zM355 932h3v1h-3zM305 931h2v2h-2zM392 932h3v1h-3zM269 932h6v1h-6zM243 932h2v1h-2zM461 932h2v1h-2zM230 931h2v2h-2zM362 932h5v1h-5zM417 932h5v1h-5zM402 932h13v1h-13zM385 932h6v1h-6zM435 932h25v1h-25zM372 933h2v1h-2zM352 932h2v2h-2zM365 933h2v1h-2zM235 932h2v2h-2zM379 932h4v2h-4zM438 933h23v1h-23zM269 933h4v1h-4zM392 933h4v1h-4zM376 933h2v1h-2zM287 932h3v2h-3zM435 933h2v1h-2zM330 933h4v1h-4zM387 933h4v1h-4zM362 933h2v1h-2zM276 933h2v1h-2zM464 932h4v2h-4zM279 933h4v1h-4zM402 933h10v1h-10zM397 932h2v2h-2zM355 933h2v1h-2zM231 933h2v2h-2zM426 933h3v2h-3zM299 933h4v2h-4zM462 934h4v1h-4zM393 934h3v1h-3zM380 934h3v1h-3zM375 934h3v1h-3zM408 934h3v1h-3zM414 934h2v1h-2zM398 934h7v1h-7zM435 934h26v1h-26zM471 932h2v3h-2zM384 933h2v2h-2zM417 933h8v2h-8zM346 934h2v1h-2zM368 933h2v2h-2zM332 934h2v1h-2zM346 935h4v1h-4zM427 935h2v1h-2zM461 935h4v1h-4zM361 935h5v1h-5zM408 935h8v1h-8zM397 935h9v1h-9zM316 934h2v2h-2zM371 935h2v1h-2zM301 935h2v1h-2zM419 935h6v1h-6zM281 934h2v2h-2zM375 935h2v1h-2zM388 934h4v2h-4zM436 935h24v1h-24zM431 934h2v2h-2zM328 934h2v2h-2zM335 935h2v2h-2zM348 936h4v1h-4zM397 936h3v1h-3zM436 936h29v1h-29zM389 936h3v1h-3zM468 935h2v2h-2zM267 935h2v2h-2zM430 936h2v1h-2zM263 936h2v1h-2zM242 936h2v1h-2zM425 936h2v1h-2zM361 936h6v1h-6zM402 936h12v1h-12zM415 936h9v1h-9zM289 935h2v2h-2zM474 935h2v2h-2zM380 935h2v2h-2zM428 937h4v1h-4zM369 936h4v2h-4zM242 937h4v1h-4zM228 936h4v2h-4zM376 936h2v2h-2zM317 936h2v2h-2zM393 935h2v3h-2zM436 937h35v1h-35zM404 937h5v1h-5zM415 937h12v1h-12zM401 937h2v1h-2zM384 936h2v2h-2zM411 937h3v1h-3zM311 936h2v2h-2zM365 937h2v1h-2zM398 937h2v1h-2zM280 937h4v1h-4zM426 938h7v1h-7zM356 937h2v2h-2zM399 938h8v1h-8zM411 938h8v1h-8zM422 938h3v1h-3zM263 937h3v2h-3zM218 937h2v2h-2zM286 937h2v2h-2zM297 937h2v2h-2zM279 938h5v1h-5zM244 938h2v1h-2zM370 938h2v1h-2zM382 938h2v1h-2zM252 937h2v2h-2zM429 939h4v1h-4zM260 937h2v3h-2zM435 938h23v2h-23zM278 939h7v1h-7zM272 938h2v2h-2zM381 939h3v1h-3zM225 939h2v1h-2zM350 937h2v3h-2zM358 939h2v1h-2zM405 939h2v1h-2zM367 939h2v1h-2zM459 938h2v2h-2zM330 938h2v2h-2zM398 939h6v1h-6zM412 939h8v1h-8zM462 938h9v2h-9zM256 938h2v2h-2zM276 940h4v1h-4zM455 940h6v1h-6zM358 940h3v1h-3zM266 939h2v2h-2zM462 940h8v1h-8zM398 940h2v1h-2zM290 939h2v2h-2zM225 940h4v1h-4zM381 940h7v1h-7zM376 939h2v2h-2zM366 940h3v1h-3zM345 938h2v3h-2zM237 939h2v2h-2zM409 940h11v1h-11zM422 940h2v1h-2zM426 939h2v2h-2zM436 940h18v1h-18zM281 940h4v1h-4zM430 940h2v1h-2zM300 939h2v2h-2zM384 941h4v1h-4zM376 941h3v1h-3zM359 941h2v1h-2zM405 941h2v1h-2zM253 940h5v2h-5zM244 940h2v2h-2zM380 941h2v1h-2zM439 941h21v1h-21zM421 941h3v1h-3zM430 941h3v1h-3zM425 941h3v1h-3zM417 941h2v1h-2zM276 941h2v1h-2zM409 941h7v1h-7zM366 941h2v1h-2zM462 941h3v1h-3zM227 941h2v1h-2zM390 938h2v4h-2zM436 941h2v1h-2zM410 942h9v1h-9zM436 942h11v1h-11zM376 942h6v1h-6zM448 942h11v1h-11zM405 942h3v1h-3zM431 942h3v1h-3zM334 941h2v2h-2zM421 942h2v1h-2zM291 941h2v2h-2zM238 942h2v1h-2zM462 942h2v1h-2zM218 941h2v2h-2zM403 943h5v1h-5zM295 941h2v3h-2zM416 943h2v1h-2zM222 942h2v2h-2zM448 943h12v1h-12zM235 943h5v1h-5zM461 943h3v1h-3zM377 943h3v1h-3zM435 943h5v1h-5zM397 942h3v2h-3zM420 943h4v1h-4zM254 943h2v1h-2zM428 942h2v2h-2zM353 942h2v2h-2zM441 943h5v1h-5zM465 942h2v2h-2zM410 943h5v1h-5zM432 943h2v1h-2zM425 942h2v2h-2zM461 944h4v1h-4zM235 944h4v1h-4zM441 944h19v1h-19zM267 943h2v2h-2zM254 944h3v1h-3zM329 943h2v2h-2zM438 944h2v1h-2zM416 944h8v1h-8zM227 943h2v2h-2zM298 943h2v2h-2zM277 943h2v2h-2zM435 944h2v1h-2zM403 944h2v1h-2zM344 943h2v2h-2zM366 943h2v2h-2zM399 944h2v2h-2zM463 945h3v1h-3zM444 945h4v1h-4zM255 945h2v1h-2zM334 944h2v2h-2zM409 944h5v2h-5zM426 944h2v2h-2zM422 945h2v1h-2zM246 945h2v1h-2zM250 945h2v1h-2zM274 944h2v2h-2zM449 945h11v1h-11zM261 944h2v2h-2zM236 945h2v1h-2zM441 945h2v1h-2zM416 945h4v1h-4zM410 946h2v1h-2zM462 946h4v1h-4zM438 946h3v1h-3zM414 946h3v1h-3zM450 946h3v1h-3zM420 946h4v1h-4zM246 946h6v1h-6zM405 945h2v2h-2zM229 945h2v2h-2zM358 945h2v2h-2zM456 946h3v1h-3zM273 946h2v1h-2zM442 946h7v1h-7zM285 946h2v2h-2zM246 947h4v1h-4zM401 946h2v2h-2zM385 946h2v2h-2zM272 947h3v1h-3zM413 947h4v1h-4zM267 946h2v2h-2zM442 947h2v1h-2zM447 947h5v1h-5zM455 947h5v1h-5zM461 947h5v1h-5zM426 946h5v2h-5zM374 946h2v2h-2zM436 947h5v1h-5zM392 946h2v2h-2zM420 947h2v1h-2zM432 945h2v4h-2zM344 947h2v2h-2zM289 947h2v2h-2zM272 948h2v1h-2zM225 948h2v1h-2zM388 946h2v3h-2zM405 948h2v1h-2zM259 947h2v2h-2zM455 948h2v1h-2zM379 948h2v1h-2zM396 947h2v2h-2zM348 947h2v2h-2zM458 948h5v1h-5zM354 948h2v1h-2zM413 948h5v1h-5zM352 949h4v1h-4zM436 948h17v2h-17zM403 949h4v1h-4zM225 949h3v1h-3zM379 949h3v1h-3zM312 948h2v2h-2zM459 949h2v1h-2zM416 949h2v1h-2zM400 948h2v2h-2zM276 948h2v2h-2zM219 948h2v2h-2zM452 950h4v1h-4zM250 949h2v2h-2zM226 950h2v1h-2zM438 950h2v1h-2zM352 950h2v1h-2zM246 948h2v3h-2zM441 950h9v1h-9zM380 950h2v1h-2zM462 949h2v2h-2zM368 949h2v2h-2zM403 950h2v1h-2zM394 949h5v2h-5zM410 950h2v2h-2zM413 951h4v1h-4zM407 950h2v2h-2zM329 950h2v2h-2zM340 950h2v2h-2zM442 951h5v1h-5zM434 950h2v2h-2zM386 950h2v2h-2zM448 951h9v1h-9zM427 950h2v3h-2zM454 952h3v1h-3zM441 952h7v1h-7zM468 951h2v2h-2zM360 951h2v2h-2zM450 952h2v1h-2zM228 951h2v2h-2zM261 951h2v2h-2zM413 952h5v1h-5zM398 952h2v1h-2zM458 950h2v3h-2zM397 953h3v1h-3zM441 953h4v1h-4zM343 952h2v2h-2zM317 952h2v2h-2zM459 953h2v1h-2zM416 953h2v1h-2zM446 953h2v1h-2zM465 950h2v4h-2zM411 953h2v2h-2zM457 954h4v1h-4zM397 954h2v1h-2zM447 954h2v1h-2zM442 954h2v1h-2zM296 953h2v2h-2zM386 954h2v1h-2zM283 953h2v2h-2zM444 955h5v1h-5zM450 954h2v2h-2zM385 955h3v1h-3zM238 954h2v2h-2zM369 954h2v2h-2zM408 954h2v2h-2zM457 955h2v1h-2zM441 955h2v1h-2zM421 954h4v2h-4zM396 955h4v2h-4zM440 956h7v1h-7zM279 955h2v2h-2zM460 955h2v2h-2zM417 955h2v2h-2zM385 956h2v1h-2zM440 957h4v1h-4zM377 957h2v2h-2zM411 958h2v2h-2zM395 958h2v2h-2zM357 960h2v2h-2z"/>
<path transform="scale(0.5)" fill="#1a1a1a" fill-opacity="1.0" d="M940 850h2v2h-2zM929 851h2v2h-2zM913 852h2v2h-2zM906 851h2v3h-2zM894 853h2v2h-2zM923 853h4v2h-4zM928 854h3v2h-3zM904 855h2v1h-2zM897 854h2v2h-2zM944 855h2v2h-2zM940 856h2v1h-2zM883 855h2v2h-2zM772 855h2v2h-2zM904 856h8v1h-8zM932 856h2v2h-2zM913 855h2v3h-2zM940 857h3v1h-3zM906 857h6v1h-6zM728 857h2v2h-2zM877 857h2v2h-2zM765 857h2v2h-2zM901 858h2v1h-2zM941 858h2v1h-2zM901 859h3v1h-3zM880 859h2v1h-2zM919 858h2v2h-2zM958 858h2v2h-2zM880 860h4v1h-4zM902 860h2v1h-2zM935 860h2v1h-2zM914 858h2v3h-2zM788 859h2v2h-2zM906 859h2v2h-2zM939 860h2v1h-2zM906 861h4v1h-4zM935 861h6v1h-6zM930 860h2v2h-2zM918 860h5v2h-5zM877 860h2v2h-2zM993 860h2v2h-2zM891 860h2v2h-2zM903 862h7v1h-7zM769 861h2v2h-2zM848 861h2v2h-2zM827 861h2v2h-2zM899 861h2v2h-2zM972 861h2v2h-2zM936 862h4v1h-4zM882 861h2v2h-2zM880 863h4v1h-4zM903 863h6v1h-6zM808 862h2v2h-2zM787 862h2v2h-2zM858 862h2v2h-2zM737 862h2v2h-2zM907 864h2v1h-2zM930 864h3v1h-3zM819 863h2v2h-2zM866 863h2v2h-2zM902 864h4v1h-4zM825 863h2v2h-2zM934 864h2v1h-2zM880 864h2v1h-2zM832 863h2v2h-2zM916 863h4v2h-4zM733 864h2v2h-2zM930 865h6v1h-6zM918 865h2v1h-2zM897 864h2v2h-2zM902 865h5v1h-5zM822 864h2v2h-2zM888 864h2v2h-2zM921 863h2v3h-2zM738 864h2v2h-2zM947 864h2v2h-2zM770 864h2v2h-2zM950 864h2v2h-2zM988 864h2v2h-2zM883 864h2v2h-2zM913 864h2v2h-2zM986 866h3v1h-3zM726 865h2v2h-2zM961 863h2v4h-2zM902 866h2v1h-2zM722 865h2v2h-2zM855 865h2v2h-2zM777 865h2v2h-2zM839 865h2v2h-2zM905 866h2v1h-2zM773 865h2v2h-2zM919 866h4v1h-4zM745 866h2v1h-2zM941 865h2v2h-2zM932 866h5v1h-5zM932 867h2v1h-2zM918 867h3v1h-3zM716 867h2v1h-2zM925 865h2v3h-2zM940 867h2v1h-2zM935 867h2v1h-2zM745 867h4v1h-4zM914 867h2v1h-2zM899 866h2v2h-2zM878 867h2v1h-2zM794 866h2v2h-2zM734 866h2v2h-2zM762 866h2v2h-2zM984 867h5v1h-5zM753 866h2v2h-2zM974 866h2v2h-2zM790 867h2v2h-2zM925 868h4v1h-4zM964 867h2v2h-2zM922 867h2v2h-2zM803 867h2v2h-2zM759 867h2v2h-2zM849 867h2v2h-2zM911 867h2v2h-2zM716 868h3v1h-3zM860 866h2v3h-2zM895 867h2v2h-2zM940 868h4v1h-4zM886 867h2v2h-2zM908 865h2v4h-2zM721 867h2v2h-2zM914 868h3v1h-3zM899 868h5v1h-5zM870 867h2v2h-2zM746 868h3v1h-3zM956 868h2v1h-2zM769 867h2v2h-2zM878 868h3v1h-3zM905 868h2v1h-2zM984 868h2v1h-2zM725 868h2v2h-2zM860 869h3v1h-3zM879 869h2v1h-2zM918 868h2v2h-2zM786 868h3v2h-3zM927 869h9v1h-9zM898 869h2v1h-2zM942 869h2v1h-2zM901 869h3v1h-3zM915 869h2v1h-2zM739 868h2v2h-2zM756 868h2v2h-2zM956 869h4v1h-4zM746 869h2v1h-2zM775 868h2v2h-2zM752 868h2v2h-2zM717 869h4v1h-4zM889 869h4v2h-4zM861 870h2v1h-2zM751 870h3v1h-3zM929 870h7v1h-7zM896 870h8v1h-8zM876 869h2v2h-2zM910 869h2v2h-2zM734 869h2v2h-2zM780 865h2v6h-2zM915 870h5v1h-5zM719 870h2v1h-2zM921 870h2v1h-2zM958 870h2v1h-2zM729 869h2v2h-2zM742 869h2v2h-2zM946 870h2v1h-2zM905 869h4v2h-4zM900 871h4v1h-4zM751 871h4v1h-4zM940 870h3v2h-3zM930 871h3v1h-3zM847 870h2v2h-2zM905 871h3v1h-3zM914 871h12v1h-12zM781 871h2v1h-2zM946 871h3v1h-3zM986 870h2v2h-2zM878 871h2v1h-2zM724 871h2v1h-2zM770 871h2v1h-2zM896 871h2v1h-2zM716 871h2v1h-2zM790 871h2v2h-2zM953 871h2v2h-2zM903 872h4v1h-4zM852 871h2v2h-2zM764 871h2v2h-2zM917 872h9v1h-9zM723 872h3v1h-3zM877 872h3v1h-3zM910 871h3v2h-3zM974 871h2v2h-2zM768 872h4v1h-4zM779 872h4v1h-4zM956 872h3v1h-3zM892 872h3v1h-3zM776 871h2v2h-2zM715 872h3v1h-3zM914 872h2v1h-2zM947 872h2v1h-2zM828 871h2v2h-2zM927 872h2v1h-2zM930 872h4v1h-4zM753 872h2v1h-2zM896 872h5v1h-5zM861 872h2v2h-2zM932 873h2v1h-2zM944 872h2v2h-2zM892 873h9v1h-9zM918 873h2v1h-2zM855 872h2v2h-2zM877 873h2v1h-2zM903 873h6v1h-6zM888 871h2v3h-2zM723 873h2v1h-2zM956 873h4v1h-4zM910 873h5v1h-5zM935 872h4v2h-4zM921 873h8v1h-8zM808 872h2v2h-2zM715 873h2v1h-2zM726 873h2v1h-2zM777 873h4v1h-4zM773 873h2v2h-2zM903 874h14v1h-14zM888 874h3v1h-3zM748 872h2v3h-2zM930 874h2v1h-2zM871 874h2v1h-2zM726 874h3v1h-3zM923 874h5v1h-5zM777 874h2v1h-2zM794 874h2v1h-2zM789 873h2v2h-2zM892 874h8v1h-8zM866 874h4v1h-4zM958 874h2v1h-2zM866 875h7v1h-7zM722 874h2v2h-2zM889 875h2v1h-2zM768 873h2v3h-2zM946 874h2v2h-2zM761 874h5v2h-5zM970 875h2v1h-2zM930 875h3v1h-3zM937 874h2v2h-2zM884 874h2v2h-2zM918 874h4v2h-4zM820 874h2v2h-2zM974 874h2v2h-2zM913 875h4v1h-4zM954 875h2v1h-2zM824 875h2v1h-2zM874 872h2v4h-2zM934 875h2v1h-2zM794 875h4v1h-4zM904 875h7v1h-7zM942 874h3v2h-3zM727 875h2v1h-2zM892 875h5v1h-5zM863 874h2v2h-2zM822 876h4v1h-4zM869 876h3v1h-3zM923 875h4v2h-4zM894 876h4v1h-4zM882 876h8v1h-8zM919 876h3v1h-3zM796 876h2v1h-2zM948 876h2v1h-2zM994 875h2v2h-2zM756 871h2v6h-2zM857 875h2v2h-2zM879 875h2v2h-2zM930 876h8v1h-8zM968 876h4v1h-4zM736 874h2v3h-2zM815 875h2v2h-2zM899 876h11v1h-11zM941 876h4v1h-4zM802 875h2v2h-2zM951 876h5v1h-5zM822 877h2v1h-2zM767 877h5v1h-5zM783 876h2v2h-2zM878 877h2v1h-2zM916 876h2v2h-2zM946 877h9v1h-9zM896 877h18v1h-18zM882 877h9v1h-9zM919 877h7v1h-7zM928 877h11v1h-11zM941 877h2v1h-2zM752 878h3v1h-3zM915 878h9v1h-9zM937 878h3v1h-3zM819 877h2v2h-2zM777 877h2v2h-2zM933 878h2v1h-2zM887 878h4v1h-4zM902 878h2v1h-2zM968 877h2v2h-2zM794 877h2v2h-2zM928 878h2v1h-2zM732 877h2v2h-2zM878 878h7v1h-7zM897 878h2v1h-2zM905 878h9v1h-9zM756 878h2v1h-2zM987 877h2v2h-2zM766 878h6v1h-6zM943 878h5v1h-5zM950 878h7v1h-7zM746 877h3v2h-3zM894 878h2v1h-2zM955 879h2v1h-2zM897 879h3v1h-3zM869 879h2v1h-2zM910 879h3v1h-3zM903 879h6v1h-6zM763 878h2v2h-2zM933 879h7v1h-7zM873 877h2v3h-2zM914 879h9v1h-9zM880 879h16v1h-16zM743 878h2v2h-2zM860 879h4v1h-4zM752 879h7v1h-7zM760 878h2v2h-2zM924 879h6v1h-6zM786 876h2v4h-2zM766 879h2v1h-2zM720 878h2v2h-2zM799 878h2v2h-2zM943 879h4v1h-4zM914 880h6v1h-6zM911 880h2v1h-2zM880 880h21v1h-21zM903 880h7v1h-7zM748 880h2v1h-2zM859 880h5v1h-5zM921 880h18v1h-18zM954 880h2v1h-2zM808 879h2v2h-2zM757 880h2v1h-2zM874 880h2v1h-2zM725 879h8v2h-8zM778 879h2v2h-2zM754 880h2v1h-2zM857 881h4v1h-4zM719 880h4v2h-4zM880 881h14v1h-14zM784 880h2v2h-2zM777 881h3v1h-3zM898 881h3v1h-3zM954 881h6v1h-6zM937 881h3v1h-3zM868 880h3v2h-3zM903 881h32v1h-32zM895 881h2v1h-2zM966 880h2v2h-2zM787 881h2v1h-2zM736 880h2v2h-2zM951 880h2v2h-2zM941 880h9v2h-9zM872 881h4v1h-4zM790 882h2v1h-2zM857 882h7v1h-7zM884 882h13v1h-13zM898 882h19v1h-19zM731 881h2v2h-2zM786 882h3v1h-3zM865 881h2v2h-2zM869 882h5v1h-5zM844 881h2v2h-2zM777 882h2v1h-2zM955 882h8v1h-8zM936 882h4v1h-4zM765 881h5v2h-5zM944 882h6v1h-6zM918 882h16v1h-16zM748 881h3v3h-3zM912 883h4v1h-4zM785 883h3v1h-3zM893 883h18v1h-18zM917 883h9v1h-9zM871 883h2v1h-2zM981 882h2v2h-2zM752 883h2v1h-2zM875 882h2v2h-2zM996 882h2v2h-2zM960 883h3v1h-3zM800 882h2v2h-2zM809 882h2v2h-2zM879 883h2v1h-2zM790 883h3v1h-3zM889 883h3v1h-3zM936 883h2v1h-2zM947 883h5v1h-5zM927 883h2v1h-2zM930 883h4v1h-4zM733 883h2v2h-2zM875 884h6v1h-6zM856 883h2v2h-2zM977 883h2v2h-2zM728 881h2v4h-2zM866 883h3v2h-3zM935 884h2v1h-2zM835 883h3v2h-3zM741 881h2v4h-2zM745 884h2v1h-2zM778 883h2v2h-2zM929 884h3v1h-3zM791 884h2v1h-2zM943 883h2v2h-2zM714 883h2v2h-2zM749 884h5v1h-5zM896 884h30v1h-30zM889 884h6v1h-6zM859 883h5v2h-5zM947 884h8v1h-8zM784 884h5v1h-5zM825 884h2v2h-2zM889 885h5v1h-5zM880 885h2v1h-2zM761 884h2v2h-2zM962 884h4v2h-4zM717 883h2v3h-2zM862 885h2v1h-2zM884 883h2v3h-2zM949 885h6v1h-6zM938 885h3v1h-3zM896 885h3v1h-3zM744 885h3v1h-3zM900 885h37v1h-37zM758 884h2v2h-2zM967 882h2v4h-2zM870 884h2v2h-2zM782 885h8v1h-8zM859 885h2v1h-2zM751 885h2v1h-2zM1004 884h2v2h-2zM720 884h2v2h-2zM874 885h5v1h-5zM943 885h4v1h-4zM744 886h2v1h-2zM956 886h3v1h-3zM879 886h7v1h-7zM782 886h4v1h-4zM890 886h34v1h-34zM968 886h2v1h-2zM925 886h22v1h-22zM788 886h2v1h-2zM796 885h2v2h-2zM767 886h2v1h-2zM792 886h2v1h-2zM874 886h2v1h-2zM771 885h2v2h-2zM949 886h5v1h-5zM865 886h7v1h-7zM791 887h3v1h-3zM860 887h2v1h-2zM739 885h2v3h-2zM875 887h2v1h-2zM966 887h4v1h-4zM878 887h7v1h-7zM743 887h2v1h-2zM813 886h2v2h-2zM857 886h2v2h-2zM736 886h2v2h-2zM891 887h49v1h-49zM941 887h4v1h-4zM757 886h3v2h-3zM765 887h4v1h-4zM865 887h9v1h-9zM839 886h2v2h-2zM784 887h2v1h-2zM753 886h2v2h-2zM951 887h8v1h-8zM711 886h2v2h-2zM863 888h8v1h-8zM858 888h4v1h-4zM739 888h6v1h-6zM765 888h2v1h-2zM848 887h2v2h-2zM827 887h2v2h-2zM875 888h10v1h-10zM749 888h3v1h-3zM947 888h2v1h-2zM872 888h2v1h-2zM723 887h2v2h-2zM958 888h2v1h-2zM966 888h2v1h-2zM790 888h3v1h-3zM891 888h8v1h-8zM887 887h2v2h-2zM900 888h43v1h-43zM790 889h2v1h-2zM863 889h4v1h-4zM944 888h2v2h-2zM947 889h3v1h-3zM749 889h4v1h-4zM958 889h4v1h-4zM891 889h52v1h-52zM963 888h2v2h-2zM795 888h2v2h-2zM755 888h2v2h-2zM777 888h2v2h-2zM952 888h5v2h-5zM737 889h6v1h-6zM856 889h5v1h-5zM763 889h2v1h-2zM720 888h2v2h-2zM863 890h2v1h-2zM873 889h6v2h-6zM866 890h3v1h-3zM769 889h2v2h-2zM740 890h4v1h-4zM717 889h2v2h-2zM788 890h2v1h-2zM762 890h5v1h-5zM880 889h3v2h-3zM751 890h2v1h-2zM731 889h4v2h-4zM825 889h2v2h-2zM886 890h57v1h-57zM758 890h2v1h-2zM960 890h2v1h-2zM737 890h2v1h-2zM945 890h5v1h-5zM853 890h5v1h-5zM945 891h4v1h-4zM973 890h2v2h-2zM964 891h2v1h-2zM853 891h3v1h-3zM765 891h6v1h-6zM746 891h2v1h-2zM773 890h2v2h-2zM758 891h3v1h-3zM781 890h2v2h-2zM838 890h2v2h-2zM737 891h7v1h-7zM873 891h5v1h-5zM863 891h6v1h-6zM967 891h2v1h-2zM814 891h4v1h-4zM884 891h59v1h-59zM788 891h3v1h-3zM762 891h2v1h-2zM784 890h2v2h-2zM954 890h4v2h-4zM733 891h2v2h-2zM789 892h4v1h-4zM863 892h4v1h-4zM963 892h6v1h-6zM737 892h4v1h-4zM945 892h7v1h-7zM901 892h42v1h-42zM814 892h5v1h-5zM763 892h6v1h-6zM985 891h2v2h-2zM801 891h2v2h-2zM745 892h3v1h-3zM751 892h2v1h-2zM884 892h15v1h-15zM858 891h2v2h-2zM759 892h2v1h-2zM883 893h5v1h-5zM749 893h4v1h-4zM830 892h2v2h-2zM770 892h2v2h-2zM880 893h2v1h-2zM901 893h40v1h-40zM943 893h9v1h-9zM862 893h2v1h-2zM730 892h2v2h-2zM763 893h2v1h-2zM811 892h2v2h-2zM877 892h2v2h-2zM954 893h2v1h-2zM767 893h2v1h-2zM869 892h4v2h-4zM817 893h2v1h-2zM850 892h2v2h-2zM969 893h2v1h-2zM891 893h9v1h-9zM775 892h2v2h-2zM841 892h2v2h-2zM874 892h2v2h-2zM963 893h4v1h-4zM943 894h7v1h-7zM968 894h3v1h-3zM876 894h3v1h-3zM940 894h2v1h-2zM954 894h3v1h-3zM727 894h2v1h-2zM749 894h3v1h-3zM862 894h6v1h-6zM880 894h6v1h-6zM901 894h38v1h-38zM892 894h8v1h-8zM887 894h3v1h-3zM742 893h2v2h-2zM745 893h2v2h-2zM733 894h2v2h-2zM982 894h2v2h-2zM843 894h2v2h-2zM935 895h15v1h-15zM801 895h2v1h-2zM812 894h2v2h-2zM856 894h2v2h-2zM955 895h2v1h-2zM767 894h3v2h-3zM968 895h2v1h-2zM750 895h2v1h-2zM911 895h23v1h-23zM787 894h2v2h-2zM727 895h3v1h-3zM737 894h4v2h-4zM881 895h9v1h-9zM891 895h19v1h-19zM794 894h4v2h-4zM861 895h2v1h-2zM864 895h4v1h-4zM711 894h2v2h-2zM728 896h2v1h-2zM882 896h21v1h-21zM861 896h5v1h-5zM800 896h3v1h-3zM904 896h46v1h-46zM764 896h2v1h-2zM973 895h2v2h-2zM818 896h3v1h-3zM961 894h5v3h-5zM739 896h2v1h-2zM772 895h2v2h-2zM796 896h2v1h-2zM791 893h2v4h-2zM767 896h2v1h-2zM876 895h4v2h-4zM753 895h2v2h-2zM745 896h2v1h-2zM958 894h2v3h-2zM953 896h2v2h-2zM958 897h8v1h-8zM994 896h3v2h-3zM780 896h4v2h-4zM857 897h10v1h-10zM885 897h2v1h-2zM942 897h9v1h-9zM800 897h2v1h-2zM969 896h2v2h-2zM888 897h53v1h-53zM762 897h5v1h-5zM775 897h2v1h-2zM818 897h5v1h-5zM758 896h2v2h-2zM715 897h2v1h-2zM732 896h2v2h-2zM733 898h2v1h-2zM852 897h2v2h-2zM821 898h2v1h-2zM845 897h2v2h-2zM876 897h5v2h-5zM715 898h5v1h-5zM737 897h2v2h-2zM882 897h2v2h-2zM773 898h4v1h-4zM864 898h3v1h-3zM952 898h3v1h-3zM857 898h6v1h-6zM805 897h2v2h-2zM765 898h2v1h-2zM898 898h53v1h-53zM957 898h4v1h-4zM744 897h3v2h-3zM987 897h2v2h-2zM724 897h3v2h-3zM892 898h5v1h-5zM762 898h2v1h-2zM717 899h3v1h-3zM801 898h2v2h-2zM856 899h2v1h-2zM881 899h4v1h-4zM957 899h2v1h-2zM909 899h38v1h-38zM838 898h2v2h-2zM771 899h6v1h-6zM876 899h4v1h-4zM721 897h2v3h-2zM754 899h2v1h-2zM886 898h5v2h-5zM813 898h2v2h-2zM789 898h2v2h-2zM860 899h4v1h-4zM870 898h2v2h-2zM948 899h7v1h-7zM895 899h13v1h-13zM960 899h2v1h-2zM851 899h4v2h-4zM880 900h65v1h-65zM775 900h4v1h-4zM754 900h4v1h-4zM826 899h2v2h-2zM764 899h2v2h-2zM865 899h2v2h-2zM721 900h3v1h-3zM732 899h6v2h-6zM767 899h2v2h-2zM797 899h2v2h-2zM792 899h2v2h-2zM874 900h2v1h-2zM771 900h2v1h-2zM761 899h2v2h-2zM856 900h8v1h-8zM948 900h4v1h-4zM790 901h2v1h-2zM874 901h8v1h-8zM890 901h54v1h-54zM755 901h3v1h-3zM959 900h3v2h-3zM963 899h2v3h-2zM717 900h2v2h-2zM777 901h2v1h-2zM954 901h2v1h-2zM846 900h2v2h-2zM966 900h2v2h-2zM774 901h2v1h-2zM978 900h2v2h-2zM722 901h4v1h-4zM858 901h5v1h-5zM739 901h4v1h-4zM865 902h2v1h-2zM754 902h3v1h-3zM788 902h5v1h-5zM819 901h2v2h-2zM768 901h2v2h-2zM947 901h4v2h-4zM859 902h4v1h-4zM805 901h2v2h-2zM774 902h5v1h-5zM737 902h7v1h-7zM883 901h6v2h-6zM873 902h8v1h-8zM780 901h2v2h-2zM868 901h2v2h-2zM954 902h5v1h-5zM724 902h3v1h-3zM732 901h4v2h-4zM931 902h15v1h-15zM751 901h2v2h-2zM963 902h4v1h-4zM879 903h10v1h-10zM788 903h2v1h-2zM931 903h5v1h-5zM746 901h2v3h-2zM737 903h2v1h-2zM873 903h3v1h-3zM890 902h40v2h-40zM783 901h2v3h-2zM862 903h5v1h-5zM974 903h2v1h-2zM710 902h2v2h-2zM791 903h2v1h-2zM725 903h2v1h-2zM749 903h2v1h-2zM964 903h6v1h-6zM754 903h4v1h-4zM937 903h22v1h-22zM775 903h2v1h-2zM797 902h2v2h-2zM879 904h4v1h-4zM974 904h4v1h-4zM887 904h2v1h-2zM967 904h3v1h-3zM862 904h3v1h-3zM951 904h5v1h-5zM937 904h12v1h-12zM866 904h2v1h-2zM782 904h3v1h-3zM746 904h5v1h-5zM734 903h2v2h-2zM770 904h2v1h-2zM884 904h2v1h-2zM756 904h2v1h-2zM742 903h2v2h-2zM890 904h45v1h-45zM764 903h3v2h-3zM937 905h7v1h-7zM746 905h4v1h-4zM790 904h4v2h-4zM886 905h42v1h-42zM872 904h3v2h-3zM968 905h2v1h-2zM963 904h2v2h-2zM929 905h6v1h-6zM945 905h8v1h-8zM859 903h2v3h-2zM957 904h3v2h-3zM770 905h3v1h-3zM976 905h2v1h-2zM760 902h2v4h-2zM879 905h2v1h-2zM782 905h2v1h-2zM853 903h2v3h-2zM898 906h26v1h-26zM925 906h27v1h-27zM873 906h2v1h-2zM759 906h4v1h-4zM771 906h2v1h-2zM876 905h2v2h-2zM891 906h6v1h-6zM718 905h2v2h-2zM882 905h3v2h-3zM774 904h2v3h-2zM804 905h2v2h-2zM866 905h4v2h-4zM958 906h2v1h-2zM970 906h2v2h-2zM940 907h3v1h-3zM886 906h4v2h-4zM751 906h3v2h-3zM973 906h2v2h-2zM944 907h8v1h-8zM738 905h2v3h-2zM741 906h2v2h-2zM834 906h2v2h-2zM853 906h3v2h-3zM862 905h2v3h-2zM724 906h2v2h-2zM765 906h2v2h-2zM779 905h2v3h-2zM820 906h2v2h-2zM721 904h2v4h-2zM893 907h46v1h-46zM940 908h6v1h-6zM909 908h30v1h-30zM957 907h2v2h-2zM866 907h6v2h-6zM963 907h2v2h-2zM776 907h2v2h-2zM757 907h6v2h-6zM745 907h2v2h-2zM897 908h11v1h-11zM793 907h2v2h-2zM976 907h2v2h-2zM789 907h2v2h-2zM879 907h2v2h-2zM764 908h4v1h-4zM858 908h2v1h-2zM888 908h8v1h-8zM947 908h5v1h-5zM737 908h2v1h-2zM873 909h3v1h-3zM897 909h35v1h-35zM890 909h6v1h-6zM751 909h3v1h-3zM731 908h2v2h-2zM867 909h3v1h-3zM969 908h2v2h-2zM886 909h3v1h-3zM954 905h2v5h-2zM933 909h12v1h-12zM863 909h2v1h-2zM764 909h10v1h-10zM715 906h2v4h-2zM849 908h2v2h-2zM856 909h4v1h-4zM744 909h2v2h-2zM862 910h3v1h-3zM819 909h2v2h-2zM755 910h2v1h-2zM779 910h2v1h-2zM890 910h19v1h-19zM854 910h4v1h-4zM913 910h4v1h-4zM946 909h4v2h-4zM883 910h6v1h-6zM910 910h2v1h-2zM868 910h2v1h-2zM879 910h2v1h-2zM725 908h2v3h-2zM782 910h2v1h-2zM749 910h5v1h-5zM768 910h6v1h-6zM786 907h2v4h-2zM918 910h27v1h-27zM872 910h5v1h-5zM962 909h2v2h-2zM733 910h2v2h-2zM895 911h4v1h-4zM883 911h7v1h-7zM872 911h9v1h-9zM968 910h2v2h-2zM737 909h3v3h-3zM722 911h2v1h-2zM854 911h5v1h-5zM900 911h44v1h-44zM850 910h2v2h-2zM779 911h5v1h-5zM862 911h2v1h-2zM965 910h2v2h-2zM951 910h2v2h-2zM726 911h2v1h-2zM945 911h5v1h-5zM749 911h2v1h-2zM1003 912h2v1h-2zM873 912h6v1h-6zM896 912h4v1h-4zM886 912h4v1h-4zM722 912h6v1h-6zM950 912h3v1h-3zM747 912h3v1h-3zM738 912h2v1h-2zM901 912h48v1h-48zM812 911h2v2h-2zM883 912h2v1h-2zM780 912h2v1h-2zM805 912h2v1h-2zM770 911h2v2h-2zM857 912h2v1h-2zM891 911h3v2h-3zM753 911h5v2h-5zM790 913h2v1h-2zM805 913h3v1h-3zM865 911h2v3h-2zM724 913h2v1h-2zM779 913h2v1h-2zM901 913h34v1h-34zM883 913h7v1h-7zM783 912h2v2h-2zM861 912h3v2h-3zM878 913h4v1h-4zM746 913h4v1h-4zM1002 913h3v1h-3zM936 913h6v1h-6zM874 913h3v1h-3zM712 913h2v1h-2zM944 913h10v1h-10zM740 913h2v1h-2zM796 912h4v2h-4zM891 913h9v1h-9zM779 914h4v1h-4zM875 914h8v1h-8zM864 914h3v1h-3zM912 914h23v1h-23zM884 914h26v1h-26zM746 914h3v1h-3zM959 914h3v1h-3zM802 913h2v2h-2zM711 914h3v1h-3zM806 914h2v1h-2zM1002 914h2v1h-2zM849 913h6v2h-6zM937 914h5v1h-5zM738 914h4v1h-4zM788 914h4v1h-4zM916 915h26v1h-26zM958 915h4v1h-4zM754 915h3v1h-3zM812 915h2v1h-2zM788 915h2v1h-2zM711 915h2v1h-2zM734 915h6v1h-6zM869 915h2v1h-2zM781 915h2v1h-2zM912 915h3v1h-3zM796 914h2v2h-2zM772 914h2v2h-2zM719 915h2v1h-2zM862 915h5v1h-5zM763 914h2v2h-2zM884 915h8v1h-8zM893 915h17v1h-17zM747 915h2v1h-2zM769 914h2v2h-2zM881 915h2v1h-2zM727 913h2v3h-2zM949 914h5v2h-5zM943 914h4v2h-4zM862 916h4v1h-4zM719 916h4v1h-4zM885 916h3v1h-3zM877 915h3v2h-3zM890 916h49v1h-49zM947 916h14v1h-14zM868 916h5v1h-5zM941 916h2v1h-2zM734 916h4v1h-4zM790 917h2v1h-2zM967 916h4v2h-4zM735 917h2v1h-2zM878 917h5v1h-5zM726 916h2v2h-2zM743 916h3v2h-3zM753 916h4v2h-4zM781 917h2v1h-2zM871 917h2v1h-2zM851 917h2v1h-2zM721 917h2v1h-2zM768 916h4v2h-4zM930 917h14v1h-14zM954 917h5v1h-5zM945 917h8v1h-8zM884 917h4v1h-4zM785 917h4v1h-4zM811 916h4v2h-4zM904 917h25v1h-25zM839 916h2v2h-2zM891 917h9v1h-9zM851 918h4v1h-4zM861 917h2v2h-2zM785 918h7v1h-7zM956 918h3v1h-3zM945 918h2v1h-2zM879 918h7v1h-7zM934 918h7v1h-7zM868 917h2v2h-2zM891 918h42v1h-42zM871 918h6v1h-6zM942 918h2v1h-2zM793 916h2v3h-2zM823 917h2v2h-2zM987 917h2v2h-2zM948 918h5v1h-5zM858 917h2v2h-2zM978 918h2v1h-2zM736 918h2v2h-2zM955 919h4v1h-4zM972 918h2v2h-2zM891 919h20v1h-20zM873 919h4v1h-4zM977 919h3v1h-3zM944 919h5v1h-5zM780 918h3v2h-3zM747 919h2v1h-2zM819 916h2v4h-2zM880 919h6v1h-6zM750 918h2v2h-2zM789 919h2v1h-2zM867 919h5v1h-5zM912 919h31v1h-31zM853 919h2v1h-2zM740 918h2v2h-2zM743 919h3v2h-3zM896 920h4v1h-4zM747 920h4v1h-4zM721 920h4v1h-4zM954 920h3v1h-3zM781 920h2v1h-2zM870 920h6v1h-6zM739 920h2v1h-2zM867 920h2v1h-2zM902 920h14v1h-14zM992 919h2v2h-2zM765 918h2v3h-2zM977 920h2v1h-2zM774 919h2v2h-2zM860 920h4v1h-4zM896 921h20v1h-20zM871 921h3v1h-3zM721 921h6v1h-6zM986 920h2v2h-2zM768 919h2v3h-2zM880 920h2v2h-2zM917 920h33v2h-33zM959 920h2v2h-2zM763 921h2v1h-2zM885 920h10v2h-10zM754 918h2v4h-2zM737 921h7v1h-7zM855 921h2v1h-2zM954 921h2v1h-2zM835 920h2v2h-2zM771 920h2v2h-2zM716 920h2v2h-2zM749 921h2v1h-2zM818 920h4v2h-4zM859 921h5v1h-5zM786 920h2v2h-2zM949 922h4v1h-4zM763 922h7v1h-7zM880 922h8v1h-8zM842 921h4v2h-4zM853 922h4v1h-4zM919 922h2v1h-2zM876 921h2v2h-2zM866 921h2v2h-2zM839 922h2v1h-2zM791 921h2v2h-2zM928 922h12v1h-12zM896 922h22v1h-22zM966 919h2v4h-2zM737 922h2v1h-2zM723 922h4v1h-4zM748 923h3v1h-3zM838 923h3v1h-3zM973 920h2v4h-2zM765 923h3v1h-3zM922 922h5v2h-5zM914 923h7v1h-7zM929 923h4v1h-4zM911 923h2v1h-2zM780 922h3v2h-3zM871 922h2v2h-2zM794 922h2v2h-2zM935 923h8v1h-8zM892 923h3v1h-3zM859 922h6v2h-6zM949 923h6v1h-6zM899 923h11v1h-11zM759 922h3v2h-3zM882 923h6v1h-6zM896 923h2v1h-2zM929 924h14v1h-14zM717 923h3v2h-3zM944 923h2v2h-2zM952 924h3v1h-3zM769 923h2v2h-2zM922 924h6v1h-6zM740 922h4v3h-4zM838 924h2v1h-2zM877 924h4v1h-4zM755 924h2v1h-2zM853 923h3v2h-3zM746 924h5v1h-5zM883 924h2v1h-2zM759 924h2v1h-2zM886 924h2v1h-2zM903 924h18v1h-18zM892 924h7v1h-7zM733 924h2v2h-2zM924 925h4v1h-4zM874 925h7v1h-7zM903 925h4v1h-4zM740 925h11v1h-11zM859 924h2v2h-2zM929 925h16v1h-16zM882 925h7v1h-7zM894 925h5v1h-5zM709 924h2v2h-2zM964 924h2v2h-2zM850 922h2v4h-2zM971 924h2v2h-2zM863 925h2v1h-2zM853 925h2v1h-2zM866 924h4v2h-4zM744 926h2v1h-2zM725 925h4v2h-4zM754 925h6v2h-6zM882 926h2v1h-2zM930 926h3v1h-3zM935 926h5v1h-5zM805 926h2v1h-2zM885 926h4v1h-4zM903 926h3v1h-3zM778 926h2v1h-2zM909 925h13v2h-13zM826 925h3v2h-3zM951 926h3v1h-3zM874 926h3v1h-3zM943 926h2v1h-2zM868 926h2v1h-2zM747 926h2v1h-2zM923 926h2v1h-2zM853 926h13v1h-13zM960 923h2v4h-2zM951 927h4v1h-4zM903 927h4v1h-4zM921 927h6v1h-6zM893 927h3v1h-3zM803 927h4v1h-4zM771 926h2v2h-2zM909 927h3v1h-3zM930 927h2v1h-2zM793 926h2v2h-2zM948 925h2v3h-2zM839 926h2v2h-2zM855 927h11v1h-11zM774 927h2v1h-2zM934 927h8v1h-8zM722 927h4v1h-4zM913 927h5v1h-5zM733 927h2v2h-2zM953 928h2v1h-2zM904 928h6v1h-6zM755 927h2v2h-2zM900 928h2v1h-2zM891 928h5v1h-5zM938 928h4v1h-4zM913 928h14v1h-14zM860 928h5v1h-5zM867 927h4v2h-4zM722 928h7v1h-7zM801 928h4v1h-4zM850 927h3v2h-3zM767 927h2v2h-2zM789 927h2v2h-2zM846 927h2v2h-2zM934 928h2v1h-2zM736 928h2v1h-2zM771 928h5v1h-5zM740 927h2v2h-2zM948 928h4v1h-4zM777 927h3v2h-3zM883 927h2v2h-2zM736 929h4v1h-4zM801 929h2v1h-2zM923 929h4v1h-4zM955 929h2v1h-2zM756 929h3v1h-3zM781 929h2v1h-2zM862 929h2v1h-2zM928 928h2v2h-2zM891 929h4v1h-4zM726 929h4v1h-4zM916 929h6v1h-6zM897 927h2v3h-2zM776 929h2v1h-2zM888 927h2v3h-2zM723 929h2v1h-2zM950 929h4v1h-4zM765 929h4v1h-4zM900 929h6v1h-6zM932 929h4v1h-4zM795 929h2v1h-2zM786 928h2v2h-2zM751 929h2v1h-2zM773 929h2v1h-2zM938 929h2v1h-2zM907 929h8v1h-8zM749 930h4v1h-4zM865 929h2v2h-2zM819 929h2v2h-2zM878 929h2v2h-2zM770 930h2v1h-2zM922 930h5v1h-5zM946 929h2v2h-2zM728 930h2v1h-2zM786 930h4v1h-4zM791 930h6v1h-6zM893 930h2v1h-2zM765 930h2v1h-2zM972 929h2v2h-2zM754 930h5v1h-5zM939 930h5v1h-5zM932 930h2v1h-2zM952 930h5v1h-5zM868 929h2v2h-2zM897 930h4v1h-4zM902 930h7v1h-7zM738 930h2v1h-2zM916 930h5v1h-5zM910 930h4v1h-4zM776 930h7v1h-7zM937 931h7v1h-7zM897 931h13v1h-13zM791 931h4v1h-4zM911 931h2v1h-2zM919 931h9v1h-9zM778 931h4v1h-4zM784 931h6v1h-6zM754 931h3v1h-3zM929 930h2v2h-2zM954 931h2v1h-2zM813 930h2v2h-2zM949 930h2v2h-2zM808 930h2v2h-2zM714 930h2v2h-2zM914 931h4v1h-4zM731 930h3v2h-3zM749 931h2v1h-2zM908 932h5v1h-5zM768 931h4v2h-4zM784 932h2v1h-2zM773 932h2v1h-2zM890 932h2v1h-2zM869 931h2v2h-2zM731 932h2v1h-2zM900 932h6v1h-6zM802 931h2v2h-2zM914 932h2v1h-2zM925 932h3v1h-3zM969 929h2v4h-2zM797 931h2v2h-2zM719 931h2v2h-2zM919 932h4v1h-4zM759 931h2v2h-2zM773 933h4v1h-4zM925 933h4v1h-4zM792 933h4v1h-4zM918 933h2v1h-2zM907 933h10v1h-10zM859 930h2v4h-2zM738 932h2v2h-2zM741 933h2v1h-2zM943 932h2v2h-2zM966 932h2v2h-2zM836 932h2v2h-2zM725 932h2v2h-2zM901 933h5v1h-5zM948 932h4v2h-4zM728 934h2v1h-2zM907 934h4v1h-4zM913 934h4v1h-4zM775 934h4v1h-4zM741 934h3v1h-3zM931 933h3v2h-3zM940 933h2v2h-2zM854 933h2v2h-2zM918 934h11v1h-11zM937 932h2v3h-2zM791 934h5v1h-5zM851 933h2v2h-2zM762 934h2v1h-2zM950 934h2v1h-2zM900 934h5v1h-5zM753 933h2v2h-2zM888 933h4v2h-4zM958 932h2v3h-2zM721 935h14v1h-14zM742 935h2v1h-2zM781 934h4v2h-4zM909 935h2v1h-2zM758 935h6v1h-6zM893 934h2v2h-2zM777 935h2v1h-2zM791 935h6v1h-6zM900 935h2v1h-2zM770 933h2v3h-2zM750 934h2v2h-2zM884 934h2v2h-2zM888 935h2v1h-2zM965 934h2v2h-2zM857 934h2v2h-2zM870 934h2v2h-2zM913 935h15v1h-15zM758 936h4v1h-4zM873 935h2v2h-2zM929 935h3v2h-3zM916 936h3v1h-3zM721 936h7v1h-7zM737 935h3v2h-3zM795 936h2v1h-2zM798 935h2v2h-2zM877 935h2v2h-2zM730 936h5v1h-5zM939 935h2v2h-2zM945 935h2v2h-2zM978 934h2v3h-2zM716 935h2v2h-2zM747 936h5v2h-5zM982 936h2v2h-2zM848 936h2v2h-2zM722 937h2v1h-2zM975 936h2v2h-2zM942 936h2v2h-2zM926 936h2v2h-2zM911 936h4v2h-4zM791 936h2v2h-2zM917 937h2v1h-2zM863 937h2v1h-2zM907 936h2v2h-2zM891 937h2v1h-2zM726 937h2v1h-2zM732 937h2v1h-2zM754 936h2v2h-2zM926 938h3v1h-3zM869 937h2v2h-2zM862 938h3v1h-3zM900 937h3v2h-3zM866 937h2v2h-2zM788 937h2v2h-2zM750 938h2v1h-2zM922 937h2v2h-2zM719 937h2v2h-2zM857 937h2v2h-2zM763 937h2v2h-2zM946 937h2v2h-2zM890 938h3v2h-3zM925 939h4v1h-4zM918 939h2v1h-2zM826 938h2v2h-2zM738 938h2v2h-2zM931 937h2v3h-2zM978 938h2v2h-2zM850 938h2v2h-2zM789 939h2v1h-2zM861 939h3v1h-3zM957 938h2v2h-2zM819 939h2v2h-2zM891 940h2v1h-2zM916 940h4v1h-4zM789 940h3v1h-3zM895 939h2v2h-2zM741 939h2v2h-2zM721 939h2v2h-2zM712 939h2v2h-2zM756 939h2v2h-2zM835 939h2v2h-2zM912 940h2v1h-2zM934 940h2v1h-2zM901 939h2v2h-2zM725 939h2v2h-2zM925 940h2v1h-2zM749 939h2v2h-2zM861 940h2v1h-2zM989 939h2v2h-2zM856 939h3v2h-3zM947 939h2v2h-2zM793 938h2v3h-2zM905 939h2v2h-2zM971 940h2v1h-2zM790 941h2v1h-2zM911 941h3v1h-3zM934 941h4v1h-4zM838 940h3v2h-3zM971 941h3v1h-3zM864 940h2v2h-2zM916 941h2v1h-2zM922 940h2v2h-2zM763 940h2v2h-2zM745 941h2v1h-2zM932 942h2v1h-2zM911 942h2v1h-2zM922 942h3v1h-3zM936 942h2v1h-2zM915 942h2v1h-2zM757 942h2v1h-2zM972 942h2v1h-2zM745 942h6v1h-6zM774 941h2v2h-2zM757 943h4v1h-4zM747 943h4v1h-4zM931 943h3v1h-3zM915 943h3v1h-3zM900 942h2v2h-2zM977 942h2v2h-2zM881 942h4v2h-4zM908 942h2v2h-2zM921 943h4v1h-4zM752 943h2v1h-2zM752 944h4v1h-4zM798 943h2v2h-2zM931 944h2v1h-2zM768 943h2v2h-2zM896 943h2v2h-2zM914 944h4v1h-4zM962 943h2v2h-2zM759 944h2v1h-2zM714 944h2v2h-2zM919 944h4v2h-4zM902 944h2v2h-2zM753 945h3v1h-3zM781 945h2v1h-2zM876 944h2v2h-2zM913 945h3v1h-3zM933 945h2v1h-2zM907 944h2v2h-2zM887 944h2v2h-2zM781 946h3v1h-3zM795 945h2v2h-2zM920 946h3v1h-3zM777 945h2v2h-2zM872 945h2v2h-2zM932 946h3v1h-3zM757 945h2v2h-2zM913 946h2v1h-2zM932 947h2v1h-2zM920 947h2v1h-2zM881 946h2v2h-2zM791 947h2v1h-2zM895 945h2v3h-2zM906 946h2v2h-2zM730 944h2v4h-2zM782 947h2v1h-2zM929 946h2v2h-2zM760 946h4v2h-4zM903 946h2v2h-2zM716 946h2v2h-2zM749 946h2v2h-2zM733 947h2v2h-2zM744 947h2v2h-2zM873 947h2v2h-2zM869 947h2v2h-2zM859 947h2v2h-2zM909 947h2v2h-2zM809 947h2v2h-2zM801 947h2v2h-2zM955 947h2v2h-2zM774 947h2v2h-2zM946 947h2v2h-2zM941 947h2v2h-2zM791 948h3v2h-3zM838 948h2v2h-2zM936 948h2v2h-2zM901 948h2v2h-2zM820 948h2v2h-2zM880 948h2v2h-2zM885 949h2v2h-2zM919 949h2v2h-2zM914 948h2v3h-2zM904 949h2v2h-2zM791 950h2v1h-2zM976 949h2v2h-2zM815 949h2v2h-2zM934 950h4v2h-4zM865 950h2v2h-2zM928 950h2v2h-2zM858 951h2v1h-2zM941 950h2v2h-2zM840 951h2v2h-2zM760 951h2v2h-2zM858 952h3v1h-3zM988 951h2v2h-2zM924 950h2v3h-2zM816 951h2v2h-2zM850 952h2v2h-2zM859 953h2v1h-2zM863 953h2v2h-2zM721 953h2v2h-2zM773 953h2v2h-2zM923 954h2v2h-2zM869 954h2v2h-2zM748 954h2v2h-2zM920 954h2v2h-2zM914 959h2v2h-2zM944 960h2v2h-2z"/>
<rect x="52.5" y="328.8" width="208.5" height="208.40000000000003" fill="none" stroke="#1e1e1e" stroke-width="1.0"/>
<line x1="52.5" y1="537.2" x2="52.5" y2="543.2" stroke="#1e1e1e" stroke-width="1.0"/>
<line x1="68.5" y1="537.2" x2="68.5" y2="540.2" stroke="#1e1e1e" stroke-width="1.0"/>
<line x1="77.5" y1="537.2" x2="77.5" y2="540.2" stroke="#1e1e1e" stroke-width="1.0"/>
<line x1="83.5" y1="537.2" x2="83.5" y2="540.2" stroke="#1e1e1e" stroke-width="1.0"/>
<line x1="88.5" y1="537.2" x2="88.5" y2="541.7" stroke="#1e1e1e" stroke-width="1.0"/>
<line x1="93.5" y1="537.2" x2="93.5" y2="540.2" stroke="#1e1e1e" stroke-width="1.0"/>
<line x1="96.5" y1="537.2" x2="96.5" y2="540.2" stroke="#1e1e1e" stroke-width="1.0"/>
<line x1="99.5" y1="537.2" x2="99.5" y2="540.2" stroke="#1e1e1e" stroke-width="1.0"/>
<line x1="102.5" y1="537.2" x2="102.5" y2="540.2" stroke="#1e1e1e" stroke-width="1.0"/>
<line x1="104.5" y1="537.2" x2="104.5" y2="543.2" stroke="#1e1e1e" stroke-width="1.0"/>
<line x1="120.5" y1="537.2" x2="120.5" y2="540.2" stroke="#1e1e1e" stroke-width="1.0"/>
<line x1="129.5" y1="537.2" x2="129.5" y2="540.2" stroke="#1e1e1e" stroke-width="1.0"/>
<line x1="136.5" y1="537.2" x2="136.5" y2="540.2" stroke="#1e1e1e" stroke-width="1.0"/>
<line x1="141.5" y1="537.2" x2="141.5" y2="541.7" stroke="#1e1e1e" stroke-width="1.0"/>
<line x1="145.5" y1="537.2" x2="145.5" y2="540.2" stroke="#1e1e1e" stroke-width="1.0"/>
<line x1="148.5" y1="537.2" x2="148.5" y2="540.2" stroke="#1e1e1e" stroke-width="1.0"/>
<line x1="151.5" y1="537.2" x2="151.5" y2="540.2" stroke="#1e1e1e" stroke-width="1.0"/>
<line x1="154.5" y1="537.2" x2="154.5" y2="540.2" stroke="#1e1e1e" stroke-width="1.0"/>
<line x1="156.5" y1="537.2" x2="156.5" y2="543.2" stroke="#1e1e1e" stroke-width="1.0"/>
<line x1="172.5" y1="537.2" x2="172.5" y2="540.2" stroke="#1e1e1e" stroke-width="1.0"/>
<line x1="181.5" y1="537.2" x2="181.5" y2="540.2" stroke="#1e1e1e" stroke-width="1.0"/>
<line x1="188.5" y1="537.2" x2="188.5" y2="540.2" stroke="#1e1e1e" stroke-width="1.0"/>
<line x1="193.5" y1="537.2" x2="193.5" y2="541.7" stroke="#1e1e1e" stroke-width="1.0"/>
<line x1="197.5" y1="537.2" x2="197.5" y2="540.2" stroke="#1e1e1e" stroke-width="1.0"/>
<line x1="200.5" y1="537.2" x2="200.5" y2="540.2" stroke="#1e1e1e" stroke-width="1.0"/>
<line x1="203.5" y1="537.2" x2="203.5" y2="540.2" stroke="#1e1e1e" stroke-width="1.0"/>
<line x1="206.5" y1="537.2" x2="206.5" y2="540.2" stroke="#1e1e1e" stroke-width="1.0"/>
<line x1="208.5" y1="537.2" x2="208.5" y2="543.2" stroke="#1e1e1e" stroke-width="1.0"/>
<line x1="224.5" y1="537.2" x2="224.5" y2="540.2" stroke="#1e1e1e" stroke-width="1.0"/>
<line x1="233.5" y1="537.2" x2="233.5" y2="540.2" stroke="#1e1e1e" stroke-width="1.0"/>
<line x1="240.5" y1="537.2" x2="240.5" y2="540.2" stroke="#1e1e1e" stroke-width="1.0"/>
<line x1="245.5" y1="537.2" x2="245.5" y2="541.7" stroke="#1e1e1e" stroke-width="1.0"/>
<line x1="249.5" y1="537.2" x2="249.5" y2="540.2" stroke="#1e1e1e" stroke-width="1.0"/>
<line x1="252.5" y1="537.2" x2="252.5" y2="540.2" stroke="#1e1e1e" stroke-width="1.0"/>
<line x1="255.5" y1="537.2" x2="255.5" y2="540.2" stroke="#1e1e1e" stroke-width="1.0"/>
<line x1="258.5" y1="537.2" x2="258.5" y2="540.2" stroke="#1e1e1e" stroke-width="1.0"/>
<line x1="261.0" y1="537.2" x2="261.0" y2="543.2" stroke="#1e1e1e" stroke-width="1.0"/>
<line x1="47.5" y1="537.5" x2="52.5" y2="537.5" stroke="#1e1e1e" stroke-width="1.0"/>
<line x1="50.0" y1="527.5" x2="52.5" y2="527.5" stroke="#1e1e1e" stroke-width="1.0"/>
<line x1="50.0" y1="516.5" x2="52.5" y2="516.5" stroke="#1e1e1e" stroke-width="1.0"/>
<line x1="50.0" y1="506.5" x2="52.5" y2="506.5" stroke="#1e1e1e" stroke-width="1.0"/>
<line x1="47.5" y1="496.5" x2="52.5" y2="496.5" stroke="#1e1e1e" stroke-width="1.0"/>
<line x1="50.0" y1="486.5" x2="52.5" y2="486.5" stroke="#1e1e1e" stroke-width="1.0"/>
<line x1="50.0" y1="476.5" x2="52.5" y2="476.5" stroke="#1e1e1e" stroke-width="1.0"/>
<line x1="50.0" y1="465.5" x2="52.5" y2="465.5" stroke="#1e1e1e" stroke-width="1.0"/>
<line x1="47.5" y1="455.5" x2="52.5" y2="455.5" stroke="#1e1e1e" stroke-width="1.0"/>
<line x1="50.0" y1="445.5" x2="52.5" y2="445.5" stroke="#1e1e1e" stroke-width="1.0"/>
<line x1="50.0" y1="435.5" x2="52.5" y2="435.5" stroke="#1e1e1e" stroke-width="1.0"/>
<line x1="50.0" y1="425.5" x2="52.5" y2="425.5" stroke="#1e1e1e" stroke-width="1.0"/>
<line x1="47.5" y1="415.5" x2="52.5" y2="415.5" stroke="#1e1e1e" stroke-width="1.0"/>
<line x1="50.0" y1="404.5" x2="52.5" y2="404.5" stroke="#1e1e1e" stroke-width="1.0"/>
<line x1="50.0" y1="394.5" x2="52.5" y2="394.5" stroke="#1e1e1e" stroke-width="1.0"/>
<line x1="50.0" y1="384.5" x2="52.5" y2="384.5" stroke="#1e1e1e" stroke-width="1.0"/>
<line x1="47.5" y1="374.5" x2="52.5" y2="374.5" stroke="#1e1e1e" stroke-width="1.0"/>
<line x1="50.0" y1="364.5" x2="52.5" y2="364.5" stroke="#1e1e1e" stroke-width="1.0"/>
<line x1="50.0" y1="354.5" x2="52.5" y2="354.5" stroke="#1e1e1e" stroke-width="1.0"/>
<line x1="50.0" y1="343.5" x2="52.5" y2="343.5" stroke="#1e1e1e" stroke-width="1.0"/>
<line x1="47.5" y1="333.5" x2="52.5" y2="333.5" stroke="#1e1e1e" stroke-width="1.0"/>
<text y="556.7" font-size="10.4" fill="#111" x="52.5" text-anchor="middle">10<tspan font-size="8" dy="-4.6">0</tspan></text>
<text y="556.7" font-size="10.4" fill="#111" x="104.625" text-anchor="middle">10<tspan font-size="8" dy="-4.6">1</tspan></text>
<text y="556.7" font-size="10.4" fill="#111" x="156.75" text-anchor="middle">10<tspan font-size="8" dy="-4.6">2</tspan></text>
<text y="556.7" font-size="10.4" fill="#111" x="208.875" text-anchor="middle">10<tspan font-size="8" dy="-4.6">3</tspan></text>
<text y="556.7" font-size="10.4" fill="#111" x="261.0" text-anchor="middle">10<tspan font-size="8" dy="-4.6">4</tspan></text>
<text x="44.0" y="540.8000000000001" font-size="10.3" font-weight="normal" text-anchor="end" fill="#111" >0</text>
<text x="44.0" y="500.09687500000007" font-size="10.3" font-weight="normal" text-anchor="end" fill="#111" >200</text>
<text x="44.0" y="459.39375000000007" font-size="10.3" font-weight="normal" text-anchor="end" fill="#111" >400</text>
<text x="44.0" y="418.69062500000007" font-size="10.3" font-weight="normal" text-anchor="end" fill="#111" >600</text>
<text x="44.0" y="377.98750000000007" font-size="10.3" font-weight="normal" text-anchor="end" fill="#111" >800</text>
<text x="44.0" y="337.28437500000007" font-size="10.3" font-weight="normal" text-anchor="end" fill="#111" >1000</text>
<rect x="301.5" y="327.9" width="208.5" height="208.5" fill="none" stroke="#1e1e1e" stroke-width="1.0"/>
<line x1="301.5" y1="536.4" x2="301.5" y2="542.4" stroke="#1e1e1e" stroke-width="1.0"/>
<line x1="317.5" y1="536.4" x2="317.5" y2="539.4" stroke="#1e1e1e" stroke-width="1.0"/>
<line x1="326.5" y1="536.4" x2="326.5" y2="539.4" stroke="#1e1e1e" stroke-width="1.0"/>
<line x1="332.5" y1="536.4" x2="332.5" y2="539.4" stroke="#1e1e1e" stroke-width="1.0"/>
<line x1="337.5" y1="536.4" x2="337.5" y2="540.9" stroke="#1e1e1e" stroke-width="1.0"/>
<line x1="342.5" y1="536.4" x2="342.5" y2="539.4" stroke="#1e1e1e" stroke-width="1.0"/>
<line x1="345.5" y1="536.4" x2="345.5" y2="539.4" stroke="#1e1e1e" stroke-width="1.0"/>
<line x1="348.5" y1="536.4" x2="348.5" y2="539.4" stroke="#1e1e1e" stroke-width="1.0"/>
<line x1="351.5" y1="536.4" x2="351.5" y2="539.4" stroke="#1e1e1e" stroke-width="1.0"/>
<line x1="353.5" y1="536.4" x2="353.5" y2="542.4" stroke="#1e1e1e" stroke-width="1.0"/>
<line x1="369.5" y1="536.4" x2="369.5" y2="539.4" stroke="#1e1e1e" stroke-width="1.0"/>
<line x1="378.5" y1="536.4" x2="378.5" y2="539.4" stroke="#1e1e1e" stroke-width="1.0"/>
<line x1="385.5" y1="536.4" x2="385.5" y2="539.4" stroke="#1e1e1e" stroke-width="1.0"/>
<line x1="390.5" y1="536.4" x2="390.5" y2="540.9" stroke="#1e1e1e" stroke-width="1.0"/>
<line x1="394.5" y1="536.4" x2="394.5" y2="539.4" stroke="#1e1e1e" stroke-width="1.0"/>
<line x1="397.5" y1="536.4" x2="397.5" y2="539.4" stroke="#1e1e1e" stroke-width="1.0"/>
<line x1="400.5" y1="536.4" x2="400.5" y2="539.4" stroke="#1e1e1e" stroke-width="1.0"/>
<line x1="403.5" y1="536.4" x2="403.5" y2="539.4" stroke="#1e1e1e" stroke-width="1.0"/>
<line x1="405.5" y1="536.4" x2="405.5" y2="542.4" stroke="#1e1e1e" stroke-width="1.0"/>
<line x1="421.5" y1="536.4" x2="421.5" y2="539.4" stroke="#1e1e1e" stroke-width="1.0"/>
<line x1="430.5" y1="536.4" x2="430.5" y2="539.4" stroke="#1e1e1e" stroke-width="1.0"/>
<line x1="437.5" y1="536.4" x2="437.5" y2="539.4" stroke="#1e1e1e" stroke-width="1.0"/>
<line x1="442.5" y1="536.4" x2="442.5" y2="540.9" stroke="#1e1e1e" stroke-width="1.0"/>
<line x1="446.5" y1="536.4" x2="446.5" y2="539.4" stroke="#1e1e1e" stroke-width="1.0"/>
<line x1="449.5" y1="536.4" x2="449.5" y2="539.4" stroke="#1e1e1e" stroke-width="1.0"/>
<line x1="452.5" y1="536.4" x2="452.5" y2="539.4" stroke="#1e1e1e" stroke-width="1.0"/>
<line x1="455.5" y1="536.4" x2="455.5" y2="539.4" stroke="#1e1e1e" stroke-width="1.0"/>
<line x1="457.5" y1="536.4" x2="457.5" y2="542.4" stroke="#1e1e1e" stroke-width="1.0"/>
<line x1="473.5" y1="536.4" x2="473.5" y2="539.4" stroke="#1e1e1e" stroke-width="1.0"/>
<line x1="482.5" y1="536.4" x2="482.5" y2="539.4" stroke="#1e1e1e" stroke-width="1.0"/>
<line x1="489.5" y1="536.4" x2="489.5" y2="539.4" stroke="#1e1e1e" stroke-width="1.0"/>
<line x1="494.5" y1="536.4" x2="494.5" y2="540.9" stroke="#1e1e1e" stroke-width="1.0"/>
<line x1="498.5" y1="536.4" x2="498.5" y2="539.4" stroke="#1e1e1e" stroke-width="1.0"/>
<line x1="501.5" y1="536.4" x2="501.5" y2="539.4" stroke="#1e1e1e" stroke-width="1.0"/>
<line x1="504.5" y1="536.4" x2="504.5" y2="539.4" stroke="#1e1e1e" stroke-width="1.0"/>
<line x1="507.5" y1="536.4" x2="507.5" y2="539.4" stroke="#1e1e1e" stroke-width="1.0"/>
<line x1="510.0" y1="536.4" x2="510.0" y2="542.4" stroke="#1e1e1e" stroke-width="1.0"/>
<line x1="296.5" y1="536.5" x2="301.5" y2="536.5" stroke="#1e1e1e" stroke-width="1.0"/>
<line x1="299.0" y1="526.5" x2="301.5" y2="526.5" stroke="#1e1e1e" stroke-width="1.0"/>
<line x1="299.0" y1="516.5" x2="301.5" y2="516.5" stroke="#1e1e1e" stroke-width="1.0"/>
<line x1="299.0" y1="505.5" x2="301.5" y2="505.5" stroke="#1e1e1e" stroke-width="1.0"/>
<line x1="296.5" y1="495.5" x2="301.5" y2="495.5" stroke="#1e1e1e" stroke-width="1.0"/>
<line x1="299.0" y1="485.5" x2="301.5" y2="485.5" stroke="#1e1e1e" stroke-width="1.0"/>
<line x1="299.0" y1="475.5" x2="301.5" y2="475.5" stroke="#1e1e1e" stroke-width="1.0"/>
<line x1="299.0" y1="465.5" x2="301.5" y2="465.5" stroke="#1e1e1e" stroke-width="1.0"/>
<line x1="296.5" y1="454.5" x2="301.5" y2="454.5" stroke="#1e1e1e" stroke-width="1.0"/>
<line x1="299.0" y1="444.5" x2="301.5" y2="444.5" stroke="#1e1e1e" stroke-width="1.0"/>
<line x1="299.0" y1="434.5" x2="301.5" y2="434.5" stroke="#1e1e1e" stroke-width="1.0"/>
<line x1="299.0" y1="424.5" x2="301.5" y2="424.5" stroke="#1e1e1e" stroke-width="1.0"/>
<line x1="296.5" y1="414.5" x2="301.5" y2="414.5" stroke="#1e1e1e" stroke-width="1.0"/>
<line x1="299.0" y1="404.5" x2="301.5" y2="404.5" stroke="#1e1e1e" stroke-width="1.0"/>
<line x1="299.0" y1="393.5" x2="301.5" y2="393.5" stroke="#1e1e1e" stroke-width="1.0"/>
<line x1="299.0" y1="383.5" x2="301.5" y2="383.5" stroke="#1e1e1e" stroke-width="1.0"/>
<line x1="296.5" y1="373.5" x2="301.5" y2="373.5" stroke="#1e1e1e" stroke-width="1.0"/>
<line x1="299.0" y1="363.5" x2="301.5" y2="363.5" stroke="#1e1e1e" stroke-width="1.0"/>
<line x1="299.0" y1="353.5" x2="301.5" y2="353.5" stroke="#1e1e1e" stroke-width="1.0"/>
<line x1="299.0" y1="342.5" x2="301.5" y2="342.5" stroke="#1e1e1e" stroke-width="1.0"/>
<line x1="296.5" y1="332.5" x2="301.5" y2="332.5" stroke="#1e1e1e" stroke-width="1.0"/>
<text y="556.7" font-size="10.4" fill="#111" x="301.5" text-anchor="middle">10<tspan font-size="8" dy="-4.6">0</tspan></text>
<text y="556.7" font-size="10.4" fill="#111" x="353.625" text-anchor="middle">10<tspan font-size="8" dy="-4.6">1</tspan></text>
<text y="556.7" font-size="10.4" fill="#111" x="405.75" text-anchor="middle">10<tspan font-size="8" dy="-4.6">2</tspan></text>
<text y="556.7" font-size="10.4" fill="#111" x="457.875" text-anchor="middle">10<tspan font-size="8" dy="-4.6">3</tspan></text>
<text y="556.7" font-size="10.4" fill="#111" x="510.0" text-anchor="middle">10<tspan font-size="8" dy="-4.6">4</tspan></text>
<text x="293.0" y="540.8000000000001" font-size="10.3" font-weight="normal" text-anchor="end" fill="#111" >0</text>
<text x="293.0" y="500.09687500000007" font-size="10.3" font-weight="normal" text-anchor="end" fill="#111" >200</text>
<text x="293.0" y="459.39375000000007" font-size="10.3" font-weight="normal" text-anchor="end" fill="#111" >400</text>
<text x="293.0" y="418.69062500000007" font-size="10.3" font-weight="normal" text-anchor="end" fill="#111" >600</text>
<text x="293.0" y="377.98750000000007" font-size="10.3" font-weight="normal" text-anchor="end" fill="#111" >800</text>
<text x="293.0" y="337.28437500000007" font-size="10.3" font-weight="normal" text-anchor="end" fill="#111" >1000</text>
<rect x="103.5" y="386.9" width="133.4" height="113.40000000000003" fill="none" stroke="#555" stroke-width="1.0"/>
<line x1="154.5" y1="386.9" x2="154.5" y2="500.3" stroke="#555" stroke-width="1.0"/>
<line x1="170.5" y1="386.9" x2="170.5" y2="500.3" stroke="#555" stroke-width="1.0"/>
<line x1="185.5" y1="386.9" x2="185.5" y2="500.3" stroke="#555" stroke-width="1.0"/>
<line x1="199.5" y1="386.9" x2="199.5" y2="500.3" stroke="#555" stroke-width="1.0"/>
<line x1="215.5" y1="386.9" x2="215.5" y2="500.3" stroke="#555" stroke-width="1.0"/>
<rect x="352.5" y="386.1" width="132.89999999999998" height="113.5" fill="none" stroke="#555" stroke-width="1.0"/>
<line x1="403.5" y1="386.1" x2="403.5" y2="499.6" stroke="#555" stroke-width="1.0"/>
<line x1="419.5" y1="386.1" x2="419.5" y2="499.6" stroke="#555" stroke-width="1.0"/>
<line x1="434.5" y1="386.1" x2="434.5" y2="499.6" stroke="#555" stroke-width="1.0"/>
<line x1="448.5" y1="386.1" x2="448.5" y2="499.6" stroke="#555" stroke-width="1.0"/>
<line x1="464.5" y1="386.1" x2="464.5" y2="499.6" stroke="#555" stroke-width="1.0"/>
<text x="153" y="360.4" font-size="10.8" font-weight="normal" text-anchor="start" fill="#111" >1.0%</text>
<text x="184.6" y="360.4" font-size="10.8" font-weight="normal" text-anchor="start" fill="#111" >8.0%</text>
<text x="217" y="360.4" font-size="10.8" font-weight="normal" text-anchor="start" fill="#111" >54.3%</text>
<text x="120.5" y="378" font-size="10.8" font-weight="normal" text-anchor="start" fill="#111" >11.5%</text>
<text x="168.5" y="378" font-size="10.8" font-weight="normal" text-anchor="start" fill="#111" >2.3%</text>
<text x="201" y="378" font-size="10.8" font-weight="normal" text-anchor="start" fill="#111" >22.7%</text>
<text x="400" y="360.8" font-size="10.8" font-weight="normal" text-anchor="start" fill="#111" >1.5%</text>
<text x="431.6" y="360.8" font-size="10.8" font-weight="normal" text-anchor="start" fill="#111" >11.2%</text>
<text x="470.5" y="360.8" font-size="10.8" font-weight="normal" text-anchor="start" fill="#111" >28.2%</text>
<text x="373.5" y="378.3" font-size="10.8" font-weight="normal" text-anchor="start" fill="#111" >12.0%</text>
<text x="418.5" y="378.3" font-size="10.8" font-weight="normal" text-anchor="start" fill="#111" >3.9%</text>
<text x="451" y="378.3" font-size="10.8" font-weight="normal" text-anchor="start" fill="#111" >42.7%</text>
<text transform="translate(12.0,478.6) rotate(-90)" font-size="13.5" font-weight="bold" fill="#111">Forward Scatter</text>
<line x1="9" y1="362.5" x2="9" y2="336" stroke="#1e1e1e" stroke-width="1.2"/>
<path d="M9 325.8 L13.8 336.6 L4.4 336.6 Z" fill="#1e1e1e"/>
<line x1="9" y1="491" x2="9" y2="548.6" stroke="#1e1e1e" stroke-width="1.2"/>
<text x="260.8" y="576.4" font-size="14.5" font-weight="bold" text-anchor="start" fill="#111" >CFSE</text>
<line x1="53.4" y1="571.5" x2="250.8" y2="571.5" stroke="#1e1e1e" stroke-width="1.2"/>
<line x1="309.4" y1="571.5" x2="505" y2="571.5" stroke="#1e1e1e" stroke-width="1.2"/>
<path d="M516 571.5 L503 567.5 L503 575.5 Z" fill="#1e1e1e"/>
</svg></body></html>
